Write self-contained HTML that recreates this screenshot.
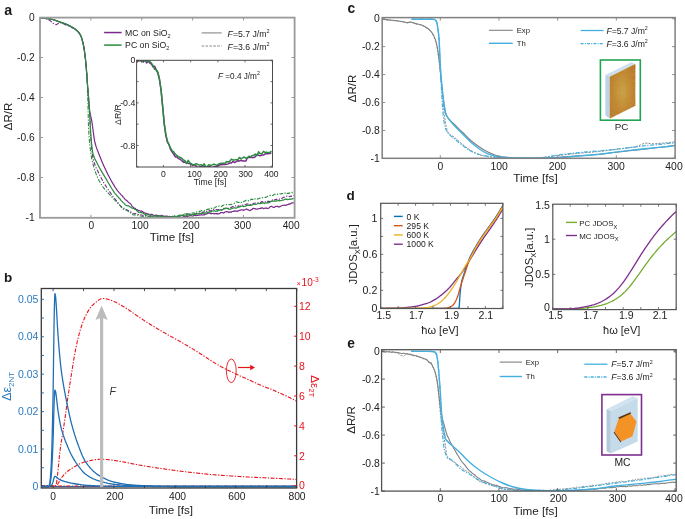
<!DOCTYPE html>
<html><head><meta charset="utf-8"><style>
html,body{margin:0;padding:0;background:#fff;}
svg{display:block;font-family:"Liberation Sans", sans-serif;will-change:transform;-webkit-font-smoothing:antialiased;}
</style></head><body>
<svg width="685" height="519" viewBox="0 0 685 519">
<defs>
<clipPath id="clipA"><rect x="40" y="17" width="254.5" height="201"/></clipPath>
<clipPath id="clipI"><rect x="136.6" y="60" width="135.9" height="107"/></clipPath>
<clipPath id="clipB"><rect x="41.4" y="288.6" width="255.2" height="199.4"/></clipPath>
<clipPath id="clipC"><rect x="382.3" y="17" width="292.7" height="141.2"/></clipPath>
<clipPath id="clipD1"><rect x="380.7" y="203.3" width="122.2" height="105.2"/></clipPath>
<clipPath id="clipD2"><rect x="552.5" y="204.2" width="123.7" height="105.3"/></clipPath>
<clipPath id="clipE"><rect x="381.9" y="350" width="294.3" height="141.1"/></clipPath>
</defs>
<rect width="685" height="519" fill="#fff"/>
<text x="4.2" y="14.7" font-size="14.2" text-anchor="start" fill="#1a1a1a" font-weight="bold" font-style="normal" >a</text>
<g clip-path="url(#clipA)">
<path d="M40.5,18 L41.1,18.01 L41.7,18.05 L42.3,18.11 L42.9,18.19 L43.5,18.29 L44.1,18.4 L44.7,18.52 L45.3,18.65 L45.9,18.78 L46.5,18.93 L47.1,19.11 L47.7,19.34 L48.3,19.6 L48.9,19.89 L49.5,20.21 L50.1,20.56 L50.7,21.04 L51.3,21.63 L51.9,22.26 L52.5,22.83 L53.1,23.26 L53.7,23.65 L54.3,24.02 L54.9,24.33 L55.5,24.54 L56.1,24.6 L56.7,24.42 L57.3,24.08 L57.9,23.68 L58.5,23.34 L59.1,23.19 L59.7,23.12 L60.3,23.07 L60.9,23.03 L61.5,23.01 L62.1,23 L62.7,23.17 L63.3,23.51 L63.9,23.93 L64.5,24.34 L65.1,24.64 L65.7,24.86 L66.3,25.05 L66.9,25.23 L67.5,25.42 L68.1,25.64 L68.7,25.9 L69.3,26.18 L69.9,26.48 L70.5,26.79 L71.1,27.11 L71.7,27.44 L72.3,27.76 L72.9,28.07 L73.5,28.38 L74.1,28.7 L74.7,29.04 L75.3,29.41 L75.9,29.82 L76.5,30.28 L77.1,30.79 L77.7,31.36 L78.3,31.99 L78.9,32.72 L79.5,33.55 L80.1,34.5 L80.7,35.59 L81.3,37.05 L81.9,38.89 L82.5,41.08 L83.1,43.58 L83.7,46.39 L84.3,49.99 L84.9,54.4 L85.5,59.5 L86.1,65.95 L86.7,73.78 L87.3,81.99 L87.9,89.53 L88.5,96.4 L89.1,103.92 L89.7,113.98 L90.3,129.09 L90.9,139.27 L91.5,146.79 L92.1,152.67 L92.7,156.6 L93.3,159.25 L93.9,161.55 L94.5,163.55 L95.1,165.29 L95.7,166.82 L96.3,168.19 L96.9,169.44 L97.5,170.62 L98.1,171.79 L98.7,172.98 L99.3,174.23 L99.9,175.45 L100.5,176.65 L101.1,177.81 L101.7,178.93 L102.3,180.03 L102.9,181.1 L103.5,182.15 L104.1,183.17 L104.7,184.16 L105.3,185.14 L105.9,186.09 L106.5,187.02 L107.1,187.94 L107.7,188.84 L108.3,189.73 L108.9,190.6 L109.5,191.47 L110.1,192.32 L110.7,193.17 L111.3,194.04 L111.9,194.9 L112.5,195.68 L113.1,196.53 L113.7,197.31 L114.3,198.04 L114.9,198.8 L115.5,199.49 L116.1,200.24 L116.7,201.15 L117.3,201.92 L117.9,202.62 L118.5,203.48 L119.1,204.24 L119.7,204.95 L120.3,205.79 L120.9,206.7 L121.5,207.39 L122.1,208.1 L122.7,208.63 L123.3,209.09 L123.9,209.43 L124.5,209.93 L125.1,210.1 L125.7,209.96 L126.3,210.15 L126.9,210.2 L127.5,210.26 L128.1,210.5 L128.7,210.84 L129.3,211.22 L129.9,211.6 L130.5,211.63 L131.1,212.15 L131.7,212.74 L132.3,212.77 L132.9,213.37 L133.5,213.79 L134.1,213.62 L134.7,213.74 L135.3,213.65 L135.9,213.45 L136.5,213.68 L137.1,214.2 L137.7,214.23 L138.3,214.63 L138.9,214.55 L139.5,214.78 L140.1,214.79 L140.7,214.81 L141.3,214.98 L141.9,215.07 L142.5,215.41 L143.1,215.7 L143.7,216.17 L144.3,216.2 L144.9,216.45 L145.5,215.7 L146.1,215.97 L146.7,215.77 L147.3,216.04 L147.9,215.98 L148.5,216.53 L149.1,216.26 L149.7,216.25 L150.3,216.03 L150.9,216.3 L151.5,216.27 L152.1,216.06 L152.7,216.19 L153.3,216.31 L153.9,216.48 L154.5,216.78 L155.1,217.14 L155.7,217.07 L156.3,217.23 L156.9,217.01 L157.5,216.79 L158.1,216.95 L158.7,217.32 L159.3,217.25 L159.9,217 L160.5,216.94 L161.1,216.38 L161.7,216.3 L162.3,216.21 L162.9,216.68 L163.5,216.87 L164.1,217.17 L164.7,217.6 L165.3,217.38 L165.9,216.89 L166.5,216.71 L167.1,216.91 L167.7,216.38 L168.3,216.51 L168.9,216.56 L169.5,217.02 L170.1,216.77 L170.7,216.6 L171.3,216.65 L171.9,216.7 L172.5,216.29 L173.1,216.68 L173.7,216.78 L174.3,216.74 L174.9,216.78 L175.5,216.72 L176.1,216.54 L176.7,216.68 L177.3,216.54 L177.9,216.33 L178.5,216.26 L179.1,216.17 L179.7,215.96 L180.3,215.91 L180.9,215.63 L181.5,215.78 L182.1,215.17 L182.7,214.8 L183.3,214.64 L183.9,214.95 L184.5,214.65 L185.1,214.72 L185.7,214.84 L186.3,214.7 L186.9,214.21 L187.5,214.06 L188.1,213.99 L188.7,214.06 L189.3,214.07 L189.9,214.59 L190.5,214.71 L191.1,214.96 L191.7,215.04 L192.3,215.12 L192.9,214.78 L193.5,214.82 L194.1,214.32 L194.7,213.94 L195.3,213.87 L195.9,213.74 L196.5,213.5 L197.1,213.42 L197.7,213.2 L198.3,213.02 L198.9,213.14 L199.5,213.13 L200.1,213.19 L200.7,213.26 L201.3,213.17 L201.9,213.01 L202.5,212.35 L203.1,212.13 L203.7,212.27 L204.3,211.75 L204.9,211.68 L205.5,211.76 L206.1,212 L206.7,211.4 L207.3,211.58 L207.9,210.89 L208.5,210.87 L209.1,210.78 L209.7,210.51 L210.3,210.66 L210.9,210.84 L211.5,210.74 L212.1,209.79 L212.7,210.25 L213.3,209.69 L213.9,209.63 L214.5,209.25 L215.1,209.54 L215.7,209.45 L216.3,209.43 L216.9,209.64 L217.5,209.78 L218.1,209.97 L218.7,209.5 L219.3,209.6 L219.9,209.87 L220.5,209.95 L221.1,209.88 L221.7,209.78 L222.3,209.8 L222.9,209.43 L223.5,208.8 L224.1,208.28 L224.7,208.75 L225.3,208.51 L225.9,208.14 L226.5,208.53 L227.1,208.97 L227.7,208.58 L228.3,208.33 L228.9,208.65 L229.5,208.43 L230.1,207.89 L230.7,207.48 L231.3,207.4 L231.9,206.76 L232.5,206.61 L233.1,206.76 L233.7,206.06 L234.3,205.81 L234.9,206 L235.5,206.06 L236.1,205.73 L236.7,206.21 L237.3,206.53 L237.9,206.16 L238.5,205.81 L239.1,206.26 L239.7,206.21 L240.3,206 L240.9,205.94 L241.5,205.96 L242.1,205.24 L242.7,205.03 L243.3,205.05 L243.9,204.7 L244.5,204.65 L245.1,204.49 L245.7,204.51 L246.3,204.12 L246.9,203.91 L247.5,203.99 L248.1,204.11 L248.7,204.33 L249.3,204.03 L249.9,204.49 L250.5,204.65 L251.1,204.64 L251.7,204.13 L252.3,204.35 L252.9,204.08 L253.5,203.43 L254.1,203.26 L254.7,203.18 L255.3,203.07 L255.9,202.87 L256.5,202.63 L257.1,202.75 L257.7,202.74 L258.3,203.14 L258.9,203.08 L259.5,203.02 L260.1,202.62 L260.7,202.65 L261.3,201.82 L261.9,201.5 L262.5,201.92 L263.1,201.68 L263.7,201.83 L264.3,201.91 L264.9,201.86 L265.5,201.76 L266.1,201.89 L266.7,201.23 L267.3,201.1 L267.9,201.51 L268.5,201.18 L269.1,201.29 L269.7,201.78 L270.3,201.7 L270.9,201.37 L271.5,201.05 L272.1,200.42 L272.7,199.87 L273.3,200.05 L273.9,199.45 L274.5,199.67 L275.1,199.91 L275.7,199.6 L276.3,199.13 L276.9,199.76 L277.5,199.2 L278.1,199.18 L278.7,199.5 L279.3,199.15 L279.9,198.76 L280.5,198.87 L281.1,198.46 L281.7,198.22 L282.3,198.2 L282.9,197.8 L283.5,197.28 L284.1,197.33 L284.7,196.95 L285.3,196.76 L285.9,196.5 L286.5,196.33 L287.1,195.93 L287.7,196.05 L288.3,195.85 L288.9,196.28 L289.5,196.53 L290.1,196.6 L290.7,196.03 L291.3,196.5 L291.9,195.72 L292.5,195.61 L293.1,195.43 L293.7,195.55" fill="none" stroke="#7b2a8c" stroke-width="1.1" stroke-dasharray="4,1.5,1.3,1.5" stroke-linejoin="round" />
<path d="M40.5,18 L41.1,18.01 L41.7,18.03 L42.3,18.06 L42.9,18.1 L43.5,18.15 L44.1,18.2 L44.7,18.27 L45.3,18.33 L45.9,18.41 L46.5,18.48 L47.1,18.57 L47.7,18.65 L48.3,18.74 L48.9,18.83 L49.5,18.92 L50.1,19.02 L50.7,19.12 L51.3,19.24 L51.9,19.38 L52.5,19.53 L53.1,19.69 L53.7,19.86 L54.3,20.04 L54.9,20.23 L55.5,20.43 L56.1,20.63 L56.7,20.84 L57.3,21.05 L57.9,21.26 L58.5,21.48 L59.1,21.69 L59.7,21.9 L60.3,22.1 L60.9,22.31 L61.5,22.52 L62.1,22.73 L62.7,22.94 L63.3,23.16 L63.9,23.38 L64.5,23.6 L65.1,23.83 L65.7,24.07 L66.3,24.32 L66.9,24.57 L67.5,24.82 L68.1,25.09 L68.7,25.37 L69.3,25.65 L69.9,25.95 L70.5,26.26 L71.1,26.57 L71.7,26.91 L72.3,27.25 L72.9,27.62 L73.5,28 L74.1,28.41 L74.7,28.84 L75.3,29.29 L75.9,29.77 L76.5,30.29 L77.1,30.83 L77.7,31.4 L78.3,32.03 L78.9,32.75 L79.5,33.56 L80.1,34.5 L80.7,35.59 L81.3,37.05 L81.9,38.89 L82.5,41.08 L83.1,43.58 L83.7,46.39 L84.3,49.99 L84.9,54.4 L85.5,59.5 L86.1,64.63 L86.7,70.64 L87.3,79.62 L87.9,102.62 L88.5,127.33 L89.1,137.3 L89.7,143.77 L90.3,149.08 L90.9,153.56 L91.5,157.31 L92.1,160.43 L92.7,163 L93.3,165.25 L93.9,167.35 L94.5,169.31 L95.1,171.13 L95.7,172.82 L96.3,174.4 L96.9,175.87 L97.5,177.25 L98.1,178.54 L98.7,179.75 L99.3,180.9 L99.9,181.99 L100.5,183.03 L101.1,184.04 L101.7,185 L102.3,185.92 L102.9,186.79 L103.5,187.62 L104.1,188.41 L104.7,189.17 L105.3,189.9 L105.9,190.6 L106.5,191.28 L107.1,191.94 L107.7,192.58 L108.3,193.22 L108.9,193.85 L109.5,194.47 L110.1,195.1 L110.7,195.74 L111.3,196.39 L111.9,197.01 L112.5,197.68 L113.1,198.34 L113.7,198.97 L114.3,199.6 L114.9,200.18 L115.5,200.78 L116.1,201.38 L116.7,202 L117.3,202.6 L117.9,203.29 L118.5,203.96 L119.1,204.57 L119.7,205.19 L120.3,205.81 L120.9,206.32 L121.5,206.75 L122.1,207.31 L122.7,207.51 L123.3,208 L123.9,208.41 L124.5,208.27 L125.1,208.69 L125.7,209.16 L126.3,209.59 L126.9,209.86 L127.5,210.89 L128.1,211.28 L128.7,211.71 L129.3,211.65 L129.9,212.15 L130.5,212.8 L131.1,213.18 L131.7,213.92 L132.3,214.46 L132.9,214.81 L133.5,214.94 L134.1,215.02 L134.7,214.73 L135.3,215 L135.9,214.97 L136.5,214.73 L137.1,214.81 L137.7,215.13 L138.3,215.31 L138.9,215.63 L139.5,215.86 L140.1,215.95 L140.7,215.97 L141.3,215.82 L141.9,216.14 L142.5,216.42 L143.1,216.43 L143.7,216.55 L144.3,216.54 L144.9,216.26 L145.5,215.87 L146.1,216.12 L146.7,216.16 L147.3,216.46 L147.9,216.74 L148.5,217.16 L149.1,216.83 L149.7,216.64 L150.3,216.69 L150.9,216.69 L151.5,216.34 L152.1,216.37 L152.7,216.9 L153.3,216.75 L153.9,217.03 L154.5,217.47 L155.1,217.6 L155.7,217.6 L156.3,217.55 L156.9,216.8 L157.5,216.1 L158.1,216.15 L158.7,216.35 L159.3,216.35 L159.9,216.91 L160.5,217.19 L161.1,217.3 L161.7,217.23 L162.3,217.6 L162.9,217.12 L163.5,217.6 L164.1,217.6 L164.7,217.59 L165.3,217.03 L165.9,217.47 L166.5,217.2 L167.1,216.84 L167.7,216.43 L168.3,216.35 L168.9,216.11 L169.5,216.25 L170.1,216.59 L170.7,217.2 L171.3,217.47 L171.9,217.2 L172.5,216.7 L173.1,216.11 L173.7,215.59 L174.3,215.69 L174.9,215.88 L175.5,215.85 L176.1,216.11 L176.7,216.23 L177.3,216.03 L177.9,215.75 L178.5,215.54 L179.1,215.21 L179.7,215.1 L180.3,214.82 L180.9,214.69 L181.5,215.19 L182.1,215.05 L182.7,214.75 L183.3,214.57 L183.9,214.48 L184.5,213.95 L185.1,213.97 L185.7,213.94 L186.3,213.92 L186.9,213.88 L187.5,213.57 L188.1,213.69 L188.7,213.47 L189.3,213.52 L189.9,213.62 L190.5,214.29 L191.1,213.9 L191.7,213.45 L192.3,213.01 L192.9,213.04 L193.5,212.73 L194.1,213 L194.7,213.37 L195.3,213.65 L195.9,213.03 L196.5,212.34 L197.1,211.61 L197.7,211.45 L198.3,211.24 L198.9,211.33 L199.5,211.4 L200.1,211.36 L200.7,211 L201.3,210.59 L201.9,210.77 L202.5,210.64 L203.1,210.7 L203.7,210.87 L204.3,210.84 L204.9,210.19 L205.5,210.32 L206.1,210.03 L206.7,209.66 L207.3,209.36 L207.9,209.5 L208.5,208.93 L209.1,208.9 L209.7,209.14 L210.3,208.85 L210.9,208.17 L211.5,208.37 L212.1,208.21 L212.7,207.85 L213.3,208.04 L213.9,208.23 L214.5,207.86 L215.1,207.28 L215.7,206.98 L216.3,206.71 L216.9,206.4 L217.5,206.07 L218.1,206.29 L218.7,206.24 L219.3,206.05 L219.9,206.48 L220.5,206.66 L221.1,206.74 L221.7,206.15 L222.3,205.97 L222.9,205.58 L223.5,205.2 L224.1,204.94 L224.7,205.07 L225.3,204.85 L225.9,204.66 L226.5,204.64 L227.1,204.39 L227.7,204.38 L228.3,204.65 L228.9,204.65 L229.5,204.68 L230.1,204.75 L230.7,204.66 L231.3,204.25 L231.9,204.41 L232.5,204.14 L233.1,204.06 L233.7,203.78 L234.3,203.41 L234.9,202.62 L235.5,202.4 L236.1,201.84 L236.7,202.03 L237.3,202.13 L237.9,202.17 L238.5,202.47 L239.1,202.53 L239.7,202.13 L240.3,202.68 L240.9,202.76 L241.5,202.3 L242.1,202.16 L242.7,202.42 L243.3,201.97 L243.9,201.23 L244.5,201.08 L245.1,201.11 L245.7,200.84 L246.3,200.17 L246.9,200.58 L247.5,200.84 L248.1,200.91 L248.7,200.45 L249.3,200.69 L249.9,200.41 L250.5,200.1 L251.1,199.09 L251.7,199.39 L252.3,199.26 L252.9,199.54 L253.5,198.99 L254.1,199.47 L254.7,198.91 L255.3,198.85 L255.9,198.56 L256.5,199.13 L257.1,199.24 L257.7,198.88 L258.3,198.73 L258.9,198.6 L259.5,198.29 L260.1,198.16 L260.7,198.37 L261.3,198.12 L261.9,198.22 L262.5,197.71 L263.1,197.48 L263.7,197.3 L264.3,197.5 L264.9,197.39 L265.5,197.45 L266.1,197.08 L266.7,197.08 L267.3,196.67 L267.9,196.22 L268.5,196.13 L269.1,195.89 L269.7,195.59 L270.3,195.29 L270.9,195.41 L271.5,194.95 L272.1,195.17 L272.7,195.5 L273.3,195.25 L273.9,194.49 L274.5,194.2 L275.1,194.14 L275.7,193.89 L276.3,194.03 L276.9,194.09 L277.5,194.38 L278.1,193.81 L278.7,193.71 L279.3,193.65 L279.9,193.77 L280.5,193.97 L281.1,193.98 L281.7,193.53 L282.3,193.53 L282.9,193.68 L283.5,193.06 L284.1,192.97 L284.7,193.09 L285.3,193.04 L285.9,192.54 L286.5,192.88 L287.1,193.49 L287.7,193.42 L288.3,193.09 L288.9,193.66 L289.5,193.08 L290.1,192.79 L290.7,192.96 L291.3,192.68 L291.9,192.28 L292.5,192.82 L293.1,192.52 L293.7,192.25" fill="none" stroke="#2b8c3f" stroke-width="1.1" stroke-dasharray="4,1.5,1.3,1.5" stroke-linejoin="round" />
<path d="M40.5,18 L41.1,18.01 L41.7,18.03 L42.3,18.06 L42.9,18.1 L43.5,18.15 L44.1,18.2 L44.7,18.27 L45.3,18.33 L45.9,18.41 L46.5,18.48 L47.1,18.57 L47.7,18.65 L48.3,18.74 L48.9,18.83 L49.5,18.92 L50.1,19.02 L50.7,19.12 L51.3,19.24 L51.9,19.38 L52.5,19.53 L53.1,19.69 L53.7,19.86 L54.3,20.04 L54.9,20.23 L55.5,20.43 L56.1,20.63 L56.7,20.84 L57.3,21.05 L57.9,21.26 L58.5,21.48 L59.1,21.69 L59.7,21.9 L60.3,22.1 L60.9,22.31 L61.5,22.52 L62.1,22.73 L62.7,22.94 L63.3,23.16 L63.9,23.38 L64.5,23.6 L65.1,23.83 L65.7,24.07 L66.3,24.32 L66.9,24.57 L67.5,24.82 L68.1,25.09 L68.7,25.37 L69.3,25.65 L69.9,25.95 L70.5,26.26 L71.1,26.57 L71.7,26.91 L72.3,27.25 L72.9,27.62 L73.5,28 L74.1,28.41 L74.7,28.84 L75.3,29.29 L75.9,29.77 L76.5,30.29 L77.1,30.83 L77.7,31.4 L78.3,32.03 L78.9,32.75 L79.5,33.56 L80.1,34.5 L80.7,35.59 L81.3,37.05 L81.9,38.89 L82.5,41.08 L83.1,43.58 L83.7,46.39 L84.3,49.99 L84.9,54.4 L85.5,59.5 L86.1,65.95 L86.7,73.78 L87.3,81.99 L87.9,89.92 L88.5,98.56 L89.1,106.32 L89.7,111.32 L90.3,114.44 L90.9,116.91 L91.5,119.54 L92.1,123.08 L92.7,127.44 L93.3,132.13 L93.9,136.6 L94.5,140.36 L95.1,143.02 L95.7,145.22 L96.3,147.15 L96.9,148.88 L97.5,150.47 L98.1,151.98 L98.7,153.48 L99.3,155.02 L99.9,156.56 L100.5,158.06 L101.1,159.54 L101.7,160.99 L102.3,162.41 L102.9,163.8 L103.5,165.17 L104.1,166.5 L104.7,167.81 L105.3,169.1 L105.9,170.36 L106.5,171.59 L107.1,172.81 L107.7,173.99 L108.3,175.17 L108.9,176.32 L109.5,177.47 L110.1,178.59 L110.7,179.7 L111.3,180.78 L111.9,181.83 L112.5,182.89 L113.1,183.93 L113.7,184.86 L114.3,185.87 L114.9,186.87 L115.5,187.77 L116.1,188.69 L116.7,189.58 L117.3,190.33 L117.9,191.1 L118.5,191.83 L119.1,192.56 L119.7,193.2 L120.3,193.82 L120.9,194.59 L121.5,195.21 L122.1,195.63 L122.7,196.47 L123.3,197.27 L123.9,197.96 L124.5,198.69 L125.1,199.42 L125.7,199.76 L126.3,200.35 L126.9,200.76 L127.5,201.24 L128.1,201.91 L128.7,202.38 L129.3,202.99 L129.9,203.2 L130.5,203.84 L131.1,204.54 L131.7,205.55 L132.3,206.37 L132.9,206.89 L133.5,207.54 L134.1,208.08 L134.7,208.49 L135.3,208.38 L135.9,209.17 L136.5,209.77 L137.1,209.6 L137.7,209.84 L138.3,210.57 L138.9,210.66 L139.5,210.69 L140.1,211.05 L140.7,211.06 L141.3,210.95 L141.9,211.38 L142.5,211.5 L143.1,212.14 L143.7,212.36 L144.3,212.72 L144.9,213.1 L145.5,213.44 L146.1,213.2 L146.7,213.71 L147.3,213.83 L147.9,213.9 L148.5,214.02 L149.1,214.68 L149.7,214.73 L150.3,214.59 L150.9,214.38 L151.5,214.58 L152.1,214.4 L152.7,214.7 L153.3,215.22 L153.9,215.44 L154.5,215.6 L155.1,215.58 L155.7,215.03 L156.3,215.47 L156.9,215.32 L157.5,215.3 L158.1,215.72 L158.7,216.23 L159.3,215.55 L159.9,216.19 L160.5,215.84 L161.1,215.45 L161.7,215.4 L162.3,215.94 L162.9,215.85 L163.5,216.34 L164.1,216.56 L164.7,216.64 L165.3,216.29 L165.9,216.2 L166.5,216.2 L167.1,216.26 L167.7,216.42 L168.3,216.57 L168.9,216.55 L169.5,216.47 L170.1,216.53 L170.7,216.58 L171.3,216.76 L171.9,217.25 L172.5,217.23 L173.1,217.25 L173.7,216.95 L174.3,216.94 L174.9,216.75 L175.5,216.67 L176.1,216.72 L176.7,217.09 L177.3,217.07 L177.9,216.84 L178.5,217.19 L179.1,217.22 L179.7,217.16 L180.3,217.42 L180.9,217.6 L181.5,217.46 L182.1,217.31 L182.7,217.26 L183.3,216.96 L183.9,216.31 L184.5,216.58 L185.1,216.64 L185.7,216.66 L186.3,216.39 L186.9,216.95 L187.5,216.51 L188.1,216.41 L188.7,215.9 L189.3,216.02 L189.9,215.63 L190.5,215.63 L191.1,215.65 L191.7,215.85 L192.3,215.99 L192.9,215.86 L193.5,215.61 L194.1,215.44 L194.7,215.47 L195.3,215.44 L195.9,215.62 L196.5,215.39 L197.1,215.4 L197.7,215.49 L198.3,215.2 L198.9,214.88 L199.5,215.23 L200.1,215 L200.7,214.78 L201.3,214.71 L201.9,215.03 L202.5,215.02 L203.1,214.92 L203.7,214.86 L204.3,214.99 L204.9,214.55 L205.5,214.32 L206.1,213.95 L206.7,213.96 L207.3,213.61 L207.9,213.25 L208.5,212.93 L209.1,213.29 L209.7,213.21 L210.3,213.25 L210.9,213.71 L211.5,213.79 L212.1,213.52 L212.7,213.49 L213.3,213.55 L213.9,213.39 L214.5,213.8 L215.1,213.82 L215.7,213.5 L216.3,213.55 L216.9,213.86 L217.5,213.55 L218.1,214.01 L218.7,213.91 L219.3,213.71 L219.9,213.25 L220.5,212.87 L221.1,212.52 L221.7,212.76 L222.3,212.61 L222.9,212.56 L223.5,213.09 L224.1,212.72 L224.7,212.18 L225.3,212.01 L225.9,211.72 L226.5,211.65 L227.1,211.89 L227.7,211.95 L228.3,211.89 L228.9,212.62 L229.5,212.17 L230.1,211.89 L230.7,212.05 L231.3,212.23 L231.9,211.64 L232.5,211.51 L233.1,211.37 L233.7,211.36 L234.3,211.15 L234.9,210.71 L235.5,211.05 L236.1,211.36 L236.7,211.12 L237.3,211 L237.9,211.29 L238.5,210.85 L239.1,210.35 L239.7,210.39 L240.3,210.07 L240.9,210.03 L241.5,209.8 L242.1,209.97 L242.7,209.8 L243.3,210.37 L243.9,210 L244.5,209.93 L245.1,209.75 L245.7,209.48 L246.3,208.94 L246.9,209.17 L247.5,209.53 L248.1,209.92 L248.7,209.93 L249.3,210.51 L249.9,210.76 L250.5,210.51 L251.1,209.67 L251.7,209.75 L252.3,209.19 L252.9,208.29 L253.5,208.3 L254.1,208.67 L254.7,208.48 L255.3,208.55 L255.9,209.16 L256.5,209.01 L257.1,209.05 L257.7,209.04 L258.3,208.72 L258.9,208.49 L259.5,208.65 L260.1,208.45 L260.7,208.1 L261.3,208.33 L261.9,207.95 L262.5,207.83 L263.1,208.25 L263.7,208.63 L264.3,208.23 L264.9,208.21 L265.5,208.36 L266.1,207.95 L266.7,208 L267.3,208.36 L267.9,208.58 L268.5,208.22 L269.1,207.96 L269.7,207.16 L270.3,206.6 L270.9,206.5 L271.5,206.43 L272.1,206.6 L272.7,207.08 L273.3,207.31 L273.9,207.37 L274.5,207.11 L275.1,206.86 L275.7,206.45 L276.3,206.5 L276.9,206.23 L277.5,206.39 L278.1,206.64 L278.7,207.05 L279.3,206.74 L279.9,206.78 L280.5,206.29 L281.1,205.96 L281.7,205.67 L282.3,205.25 L282.9,205.25 L283.5,205.29 L284.1,205.23 L284.7,205.01 L285.3,205.42 L285.9,205.31 L286.5,205.17 L287.1,204.62 L287.7,204.57 L288.3,204.43 L288.9,203.99 L289.5,203.92 L290.1,204.21 L290.7,203.58 L291.3,203.17 L291.9,202.85 L292.5,202.92 L293.1,202.71 L293.7,203.15" fill="none" stroke="#7b2a8c" stroke-width="1.2" stroke-linejoin="round" />
<path d="M40.5,18 L41.1,18.01 L41.7,18.03 L42.3,18.06 L42.9,18.1 L43.5,18.15 L44.1,18.2 L44.7,18.27 L45.3,18.33 L45.9,18.41 L46.5,18.48 L47.1,18.57 L47.7,18.65 L48.3,18.74 L48.9,18.83 L49.5,18.92 L50.1,19.02 L50.7,19.12 L51.3,19.24 L51.9,19.38 L52.5,19.53 L53.1,19.69 L53.7,19.86 L54.3,20.04 L54.9,20.23 L55.5,20.43 L56.1,20.63 L56.7,20.84 L57.3,21.05 L57.9,21.26 L58.5,21.48 L59.1,21.69 L59.7,21.9 L60.3,22.1 L60.9,22.31 L61.5,22.52 L62.1,22.73 L62.7,22.94 L63.3,23.16 L63.9,23.38 L64.5,23.6 L65.1,23.83 L65.7,24.07 L66.3,24.32 L66.9,24.57 L67.5,24.82 L68.1,25.09 L68.7,25.37 L69.3,25.65 L69.9,25.95 L70.5,26.26 L71.1,26.57 L71.7,26.91 L72.3,27.25 L72.9,27.62 L73.5,28 L74.1,28.41 L74.7,28.84 L75.3,29.29 L75.9,29.77 L76.5,30.29 L77.1,30.83 L77.7,31.4 L78.3,32.03 L78.9,32.75 L79.5,33.56 L80.1,34.5 L80.7,35.59 L81.3,37.05 L81.9,38.89 L82.5,41.08 L83.1,43.58 L83.7,46.39 L84.3,49.99 L84.9,54.4 L85.5,59.5 L86.1,65.95 L86.7,73.78 L87.3,81.99 L87.9,89.58 L88.5,96.65 L89.1,104.2 L89.7,113.53 L90.3,126.08 L90.9,135.24 L91.5,142.63 L92.1,148.57 L92.7,152.4 L93.3,154.7 L93.9,156.57 L94.5,158.09 L95.1,159.38 L95.7,160.52 L96.3,161.63 L96.9,162.79 L97.5,164.03 L98.1,165.22 L98.7,166.38 L99.3,167.49 L99.9,168.58 L100.5,169.63 L101.1,170.67 L101.7,171.68 L102.3,172.68 L102.9,173.67 L103.5,174.66 L104.1,175.64 L104.7,176.63 L105.3,177.63 L105.9,178.64 L106.5,179.66 L107.1,180.69 L107.7,181.73 L108.3,182.76 L108.9,183.79 L109.5,184.82 L110.1,185.84 L110.7,186.83 L111.3,187.76 L111.9,188.73 L112.5,189.72 L113.1,190.66 L113.7,191.6 L114.3,192.59 L114.9,193.38 L115.5,193.99 L116.1,194.65 L116.7,195.41 L117.3,196.05 L117.9,196.63 L118.5,197.33 L119.1,198.18 L119.7,198.65 L120.3,199.43 L120.9,200.28 L121.5,200.94 L122.1,201.39 L122.7,202.17 L123.3,202.63 L123.9,203.13 L124.5,203.98 L125.1,204.67 L125.7,205.04 L126.3,205.4 L126.9,205.63 L127.5,205.69 L128.1,205.91 L128.7,205.93 L129.3,206.32 L129.9,206.82 L130.5,207.21 L131.1,207.26 L131.7,207.93 L132.3,208.07 L132.9,208.37 L133.5,208.23 L134.1,208.7 L134.7,209.19 L135.3,209.43 L135.9,209.52 L136.5,210.4 L137.1,211.24 L137.7,211.51 L138.3,212.05 L138.9,212.48 L139.5,212.71 L140.1,212.53 L140.7,212.45 L141.3,212.62 L141.9,213.01 L142.5,212.94 L143.1,213.11 L143.7,213.76 L144.3,214.09 L144.9,214.11 L145.5,214.85 L146.1,215.18 L146.7,215.06 L147.3,214.65 L147.9,214.76 L148.5,214.53 L149.1,214.4 L149.7,214.59 L150.3,215.43 L150.9,215.77 L151.5,216.11 L152.1,216 L152.7,216.08 L153.3,216.1 L153.9,215.85 L154.5,216.04 L155.1,216.14 L155.7,216.08 L156.3,216.19 L156.9,215.99 L157.5,215.83 L158.1,215.9 L158.7,215.87 L159.3,215.63 L159.9,216.11 L160.5,216.12 L161.1,216.4 L161.7,216.62 L162.3,216.42 L162.9,216.54 L163.5,215.98 L164.1,216.18 L164.7,216.31 L165.3,216.85 L165.9,217.11 L166.5,217.34 L167.1,217.36 L167.7,217.18 L168.3,216.82 L168.9,216.71 L169.5,217.09 L170.1,217.06 L170.7,217.2 L171.3,217.32 L171.9,216.93 L172.5,216.69 L173.1,216.69 L173.7,216.43 L174.3,216.22 L174.9,216.55 L175.5,216.61 L176.1,216.27 L176.7,216.51 L177.3,216.83 L177.9,216.42 L178.5,216.06 L179.1,216.17 L179.7,215.87 L180.3,215.47 L180.9,215.47 L181.5,215.52 L182.1,215.41 L182.7,215.55 L183.3,215.32 L183.9,215.55 L184.5,215.92 L185.1,215.81 L185.7,215.73 L186.3,216.18 L186.9,215.65 L187.5,215.1 L188.1,214.99 L188.7,214.87 L189.3,214.62 L189.9,214.85 L190.5,214.62 L191.1,214.82 L191.7,215 L192.3,214.61 L192.9,214.58 L193.5,214.75 L194.1,214.37 L194.7,213.91 L195.3,214.33 L195.9,213.96 L196.5,213.99 L197.1,214.1 L197.7,213.97 L198.3,213.53 L198.9,213.59 L199.5,213.84 L200.1,213.39 L200.7,213.47 L201.3,213.47 L201.9,213.34 L202.5,213.17 L203.1,213.33 L203.7,213.14 L204.3,213.16 L204.9,213.36 L205.5,212.81 L206.1,212.88 L206.7,213 L207.3,212.72 L207.9,212.2 L208.5,212.44 L209.1,212.29 L209.7,211.85 L210.3,211.65 L210.9,212.05 L211.5,211.64 L212.1,211 L212.7,211.02 L213.3,211.05 L213.9,210.74 L214.5,210.69 L215.1,211.39 L215.7,211.26 L216.3,211.17 L216.9,211.15 L217.5,211.14 L218.1,210.18 L218.7,210.32 L219.3,210.24 L219.9,209.79 L220.5,209.91 L221.1,210.5 L221.7,210.16 L222.3,209.72 L222.9,209.4 L223.5,209.04 L224.1,208.62 L224.7,208.6 L225.3,208.27 L225.9,208.53 L226.5,208.22 L227.1,208.16 L227.7,208.53 L228.3,208.96 L228.9,209.06 L229.5,209.29 L230.1,209.41 L230.7,208.9 L231.3,208.78 L231.9,208.7 L232.5,208.27 L233.1,207.9 L233.7,207.87 L234.3,207.83 L234.9,207.91 L235.5,208.08 L236.1,208.08 L236.7,207.94 L237.3,207.5 L237.9,207.29 L238.5,207.1 L239.1,207.12 L239.7,206.78 L240.3,206.69 L240.9,206.27 L241.5,206.17 L242.1,206.04 L242.7,205.99 L243.3,206.63 L243.9,206.57 L244.5,206.27 L245.1,206.04 L245.7,206.31 L246.3,205.74 L246.9,205.41 L247.5,205.42 L248.1,205.48 L248.7,205.4 L249.3,205.11 L249.9,205.49 L250.5,205.34 L251.1,205.5 L251.7,205.06 L252.3,204.87 L252.9,204.43 L253.5,204.48 L254.1,204.13 L254.7,204.29 L255.3,204.56 L255.9,204.33 L256.5,204.26 L257.1,203.95 L257.7,203.67 L258.3,203.39 L258.9,203.34 L259.5,203.75 L260.1,203.66 L260.7,203.19 L261.3,203.09 L261.9,203.38 L262.5,202.87 L263.1,202.69 L263.7,203.16 L264.3,203.6 L264.9,203.01 L265.5,202.83 L266.1,203.05 L266.7,203 L267.3,202.54 L267.9,202.92 L268.5,202.61 L269.1,202.67 L269.7,202.17 L270.3,201.63 L270.9,201.38 L271.5,201.51 L272.1,200.94 L272.7,200.91 L273.3,201.29 L273.9,201.09 L274.5,200.86 L275.1,201.12 L275.7,201.25 L276.3,200.9 L276.9,200.89 L277.5,200.8 L278.1,200.6 L278.7,200.54 L279.3,200.84 L279.9,200.67 L280.5,200.77 L281.1,200.48 L281.7,200.41 L282.3,200.18 L282.9,200.12 L283.5,200.04 L284.1,199.75 L284.7,199.29 L285.3,199.14 L285.9,199.34 L286.5,199.05 L287.1,199.38 L287.7,199.71 L288.3,199.47 L288.9,199.2 L289.5,199.11 L290.1,199.36 L290.7,199.06 L291.3,199.26 L291.9,198.95 L292.5,199.01 L293.1,198.5 L293.7,198.37" fill="none" stroke="#2b8c3f" stroke-width="1.2" stroke-linejoin="round" />
</g>
<rect x="40" y="17.6" width="254.6" height="200.2" fill="none" stroke="#9a9a9a" stroke-width="1.8"/>
<line x1="90.9" y1="217.8" x2="90.9" y2="214.8" stroke="#9a9a9a" stroke-width="1.0"/>
<line x1="90.9" y1="17.5" x2="90.9" y2="20.5" stroke="#9a9a9a" stroke-width="1.0"/>
<line x1="141.77" y1="217.8" x2="141.77" y2="214.8" stroke="#9a9a9a" stroke-width="1.0"/>
<line x1="141.77" y1="17.5" x2="141.77" y2="20.5" stroke="#9a9a9a" stroke-width="1.0"/>
<line x1="192.64" y1="217.8" x2="192.64" y2="214.8" stroke="#9a9a9a" stroke-width="1.0"/>
<line x1="192.64" y1="17.5" x2="192.64" y2="20.5" stroke="#9a9a9a" stroke-width="1.0"/>
<line x1="243.51" y1="217.8" x2="243.51" y2="214.8" stroke="#9a9a9a" stroke-width="1.0"/>
<line x1="243.51" y1="17.5" x2="243.51" y2="20.5" stroke="#9a9a9a" stroke-width="1.0"/>
<line x1="294.38" y1="217.8" x2="294.38" y2="214.8" stroke="#9a9a9a" stroke-width="1.0"/>
<line x1="294.38" y1="17.5" x2="294.38" y2="20.5" stroke="#9a9a9a" stroke-width="1.0"/>
<line x1="40" y1="17.5" x2="43" y2="17.5" stroke="#9a9a9a" stroke-width="1.0"/>
<line x1="294.5" y1="17.5" x2="291.5" y2="17.5" stroke="#9a9a9a" stroke-width="1.0"/>
<line x1="40" y1="57.5" x2="43" y2="57.5" stroke="#9a9a9a" stroke-width="1.0"/>
<line x1="294.5" y1="57.5" x2="291.5" y2="57.5" stroke="#9a9a9a" stroke-width="1.0"/>
<line x1="40" y1="97.5" x2="43" y2="97.5" stroke="#9a9a9a" stroke-width="1.0"/>
<line x1="294.5" y1="97.5" x2="291.5" y2="97.5" stroke="#9a9a9a" stroke-width="1.0"/>
<line x1="40" y1="137.5" x2="43" y2="137.5" stroke="#9a9a9a" stroke-width="1.0"/>
<line x1="294.5" y1="137.5" x2="291.5" y2="137.5" stroke="#9a9a9a" stroke-width="1.0"/>
<line x1="40" y1="177.5" x2="43" y2="177.5" stroke="#9a9a9a" stroke-width="1.0"/>
<line x1="294.5" y1="177.5" x2="291.5" y2="177.5" stroke="#9a9a9a" stroke-width="1.0"/>
<line x1="40" y1="217.5" x2="43" y2="217.5" stroke="#9a9a9a" stroke-width="1.0"/>
<line x1="294.5" y1="217.5" x2="291.5" y2="217.5" stroke="#9a9a9a" stroke-width="1.0"/>
<text x="34.6" y="21.2" font-size="10.2" text-anchor="end" fill="#222" font-weight="normal" font-style="normal" >0</text>
<text x="34.6" y="61.2" font-size="10.2" text-anchor="end" fill="#222" font-weight="normal" font-style="normal" >-0.2</text>
<text x="34.6" y="101.2" font-size="10.2" text-anchor="end" fill="#222" font-weight="normal" font-style="normal" >-0.4</text>
<text x="34.6" y="141.2" font-size="10.2" text-anchor="end" fill="#222" font-weight="normal" font-style="normal" >-0.6</text>
<text x="34.6" y="181.2" font-size="10.2" text-anchor="end" fill="#222" font-weight="normal" font-style="normal" >-0.8</text>
<text x="34.6" y="221.2" font-size="10.2" text-anchor="end" fill="#222" font-weight="normal" font-style="normal" >-1</text>
<text x="91.3" y="228.7" font-size="10.2" text-anchor="middle" fill="#222" font-weight="normal" font-style="normal" >0</text>
<text x="140.05" y="228.7" font-size="10.2" text-anchor="middle" fill="#222" font-weight="normal" font-style="normal" >100</text>
<text x="191.1" y="228.7" font-size="10.2" text-anchor="middle" fill="#222" font-weight="normal" font-style="normal" >200</text>
<text x="242.6" y="228.7" font-size="10.2" text-anchor="middle" fill="#222" font-weight="normal" font-style="normal" >300</text>
<text x="291.2" y="228.7" font-size="10.2" text-anchor="middle" fill="#222" font-weight="normal" font-style="normal" >400</text>
<text x="149.7" y="241.3" font-size="11.7" text-anchor="start" fill="#222" font-weight="normal" font-style="normal" >Time [fs]</text>
<text x="12" y="116.5" font-size="11.5" text-anchor="middle" fill="#222" font-weight="normal" font-style="normal" transform="rotate(-90 12 116.5)" >&#916;R/R</text>
<line x1="104.1" y1="32.55" x2="121.6" y2="32.55" stroke="#7b2a8c" stroke-width="1.5"/>
<line x1="104.1" y1="45.1" x2="121.6" y2="45.1" stroke="#2b8c3f" stroke-width="1.5"/>
<text x="125.1" y="35.5" font-size="8.7" text-anchor="start" fill="#222" font-weight="normal" font-style="normal" >MC on SiO<tspan font-size="5.5" dy="2.2">2</tspan></text>
<text x="125.1" y="48" font-size="8.7" text-anchor="start" fill="#222" font-weight="normal" font-style="normal" >PC on SiO<tspan font-size="5.5" dy="2.2">2</tspan></text>
<line x1="201.6" y1="32.9" x2="221.7" y2="32.9" stroke="#9a9a9a" stroke-width="1.3"/>
<line x1="201.6" y1="46" x2="221.7" y2="46" stroke="#8a8a8a" stroke-width="1.2" stroke-dasharray="2.6,1.3"/>
<text x="227.6" y="36.7" font-size="8.7" text-anchor="start" fill="#222" font-weight="normal" font-style="normal" ><tspan font-style="italic">F</tspan>=5.7 J/m<tspan font-size="5.5" dy="-3.5">2</tspan></text>
<text x="227.6" y="49.5" font-size="8.7" text-anchor="start" fill="#222" font-weight="normal" font-style="normal" ><tspan font-style="italic">F</tspan>=3.6 J/m<tspan font-size="5.5" dy="-3.5">2</tspan></text>
<rect x="136.6" y="60.3" width="135.9" height="106.7" fill="#fff"/>
<g clip-path="url(#clipI)">
<path d="M137,62.2 L138.6,60.5 L140.2,60.66 L141.8,60.31 L143.4,61.99 L145,59.61 L146.6,63 L148.2,61.14 L149.8,63.03 L151.4,63.99 L153,66.77 L154.6,66.17 L156.2,69.84 L157.8,72.99 L159.4,79.37 L161,89.32 L162.6,106 L164.2,122.79 L165.8,135.14 L167.4,142.05 L169,144.68 L170.6,149.63 L172.2,152.08 L173.8,154.24 L175.4,156.88 L177,156.91 L178.6,158.66 L180.2,159.31 L181.8,160.74 L183.4,162.17 L185,162 L186.6,163.03 L188.2,163.38 L189.8,163.79 L191.4,164.46 L193,165.52 L194.6,164.87 L196.2,166.14 L197.8,167.46 L199.4,166.91 L201,166.35 L202.6,165.98 L204.2,166.28 L205.8,168.17 L207.4,166.76 L209,166.12 L210.6,166.69 L212.2,168.12 L213.8,166.44 L215.4,166.75 L217,166.4 L218.6,165.64 L220.2,164.55 L221.8,164.71 L223.4,164.36 L225,164.53 L226.6,164.27 L228.2,163.88 L229.8,162.89 L231.4,162.91 L233,161.29 L234.6,162.59 L236.2,161.69 L237.8,160.74 L239.4,161.06 L241,160.3 L242.6,160.96 L244.2,160.97 L245.8,161.1 L247.4,157.75 L249,157.22 L250.6,157.48 L252.2,157.53 L253.8,157.61 L255.4,156.67 L257,154.31 L258.6,155.22 L260.2,155.81 L261.8,155.01 L263.4,155.12 L265,154.01 L266.6,153.71 L268.2,153.7 L269.8,153.56 L271.4,153.08" fill="none" stroke="#7b2a8c" stroke-width="1.5" stroke-linejoin="round" />
<path d="M137,60.17 L138.6,60.54 L140.2,58.97 L141.8,62.08 L143.4,59.46 L145,60.37 L146.6,61.6 L148.2,60.36 L149.8,61.53 L151.4,63.06 L153,65.64 L154.6,69.25 L156.2,69.73 L157.8,72.01 L159.4,78.5 L161,89.32 L162.6,105.72 L164.2,124.03 L165.8,134.11 L167.4,141.19 L169,144.46 L170.6,148.19 L172.2,150.82 L173.8,151.84 L175.4,154.29 L177,155.67 L178.6,156.65 L180.2,157.51 L181.8,158.21 L183.4,160.03 L185,160.73 L186.6,163.54 L188.2,160.39 L189.8,162.96 L191.4,163.7 L193,165.02 L194.6,164.56 L196.2,163.67 L197.8,164.53 L199.4,165.15 L201,164.65 L202.6,165.71 L204.2,163.78 L205.8,166.6 L207.4,166.3 L209,164.76 L210.6,165.42 L212.2,164.88 L213.8,164.08 L215.4,164.72 L217,165.36 L218.6,164.02 L220.2,163.56 L221.8,163.33 L223.4,163.28 L225,163.49 L226.6,161.49 L228.2,161.94 L229.8,161.24 L231.4,159.11 L233,159.96 L234.6,159.88 L236.2,159.65 L237.8,159.64 L239.4,157.44 L241,158.8 L242.6,157.92 L244.2,157 L245.8,158.17 L247.4,157.85 L249,156.25 L250.6,156.96 L252.2,155.49 L253.8,155.36 L255.4,153.94 L257,155.6 L258.6,151.73 L260.2,153.47 L261.8,153.78 L263.4,151.28 L265,152.44 L266.6,152.21 L268.2,152.61 L269.8,152.64 L271.4,151" fill="none" stroke="#2b8c3f" stroke-width="1.5" stroke-linejoin="round" />
</g>
<rect x="136.6" y="60.3" width="135.9" height="106.7" fill="none" stroke="#4a4a4a" stroke-width="1.0"/>
<line x1="163.5" y1="167" x2="163.5" y2="165" stroke="#4a4a4a" stroke-width="0.8"/>
<line x1="163.5" y1="60.3" x2="163.5" y2="62.3" stroke="#4a4a4a" stroke-width="0.8"/>
<line x1="190.68" y1="167" x2="190.68" y2="165" stroke="#4a4a4a" stroke-width="0.8"/>
<line x1="190.68" y1="60.3" x2="190.68" y2="62.3" stroke="#4a4a4a" stroke-width="0.8"/>
<line x1="217.86" y1="167" x2="217.86" y2="165" stroke="#4a4a4a" stroke-width="0.8"/>
<line x1="217.86" y1="60.3" x2="217.86" y2="62.3" stroke="#4a4a4a" stroke-width="0.8"/>
<line x1="245.04" y1="167" x2="245.04" y2="165" stroke="#4a4a4a" stroke-width="0.8"/>
<line x1="245.04" y1="60.3" x2="245.04" y2="62.3" stroke="#4a4a4a" stroke-width="0.8"/>
<line x1="272.22" y1="167" x2="272.22" y2="165" stroke="#4a4a4a" stroke-width="0.8"/>
<line x1="272.22" y1="60.3" x2="272.22" y2="62.3" stroke="#4a4a4a" stroke-width="0.8"/>
<line x1="136.6" y1="60.3" x2="138.6" y2="60.3" stroke="#4a4a4a" stroke-width="0.8"/>
<line x1="272.5" y1="60.3" x2="270.5" y2="60.3" stroke="#4a4a4a" stroke-width="0.8"/>
<line x1="136.6" y1="81.6" x2="138.6" y2="81.6" stroke="#4a4a4a" stroke-width="0.8"/>
<line x1="272.5" y1="81.6" x2="270.5" y2="81.6" stroke="#4a4a4a" stroke-width="0.8"/>
<line x1="136.6" y1="102.9" x2="138.6" y2="102.9" stroke="#4a4a4a" stroke-width="0.8"/>
<line x1="272.5" y1="102.9" x2="270.5" y2="102.9" stroke="#4a4a4a" stroke-width="0.8"/>
<line x1="136.6" y1="124.2" x2="138.6" y2="124.2" stroke="#4a4a4a" stroke-width="0.8"/>
<line x1="272.5" y1="124.2" x2="270.5" y2="124.2" stroke="#4a4a4a" stroke-width="0.8"/>
<line x1="136.6" y1="145.5" x2="138.6" y2="145.5" stroke="#4a4a4a" stroke-width="0.8"/>
<line x1="272.5" y1="145.5" x2="270.5" y2="145.5" stroke="#4a4a4a" stroke-width="0.8"/>
<line x1="136.6" y1="166.8" x2="138.6" y2="166.8" stroke="#4a4a4a" stroke-width="0.8"/>
<line x1="272.5" y1="166.8" x2="270.5" y2="166.8" stroke="#4a4a4a" stroke-width="0.8"/>
<text x="135.3" y="63.4" font-size="8.8" text-anchor="end" fill="#222" font-weight="normal" font-style="normal" >0</text>
<text x="135.3" y="106" font-size="8.8" text-anchor="end" fill="#222" font-weight="normal" font-style="normal" >-0.4</text>
<text x="135.3" y="148.6" font-size="8.8" text-anchor="end" fill="#222" font-weight="normal" font-style="normal" >-0.8</text>
<text x="163.4" y="176.8" font-size="8.6" text-anchor="middle" fill="#222" font-weight="normal" font-style="normal" >0</text>
<text x="194.5" y="176.8" font-size="8.6" text-anchor="middle" fill="#222" font-weight="normal" font-style="normal" >100</text>
<text x="220.6" y="176.8" font-size="8.6" text-anchor="middle" fill="#222" font-weight="normal" font-style="normal" >200</text>
<text x="245.7" y="176.8" font-size="8.6" text-anchor="middle" fill="#222" font-weight="normal" font-style="normal" >300</text>
<text x="271.4" y="176.8" font-size="8.6" text-anchor="middle" fill="#222" font-weight="normal" font-style="normal" >400</text>
<text x="210" y="185.2" font-size="8.6" text-anchor="middle" fill="#222" font-weight="normal" font-style="normal" >Time [fs]</text>
<text x="120.9" y="114.5" font-size="8.7" text-anchor="middle" fill="#222" font-weight="normal" font-style="normal" transform="rotate(-90 120.9 114.5)" >&#916;R/R</text>
<text x="218" y="78.6" font-size="8.2" text-anchor="start" fill="#222" font-weight="normal" font-style="normal" ><tspan font-style="italic">F</tspan> =0.4 J/m<tspan font-size="5.2" dy="-3.2">2</tspan></text>
<text x="4" y="281.6" font-size="13.5" text-anchor="start" fill="#1a1a1a" font-weight="bold" font-style="normal" >b</text>
<g clip-path="url(#clipB)">
<line x1="41.4" y1="486.5" x2="296.6" y2="486.5" stroke="#1f6fb5" stroke-width="1.1"/>
<line x1="41.4" y1="486" x2="296.6" y2="486" stroke="#e8141c" stroke-width="1.0" stroke-dasharray="4,1.5,1.3,1.5"/>
<path d="M40.92,485.7 L41.53,485.7 L42.13,485.7 L42.74,485.7 L43.35,485.7 L43.96,485.7 L44.57,485.7 L45.18,485.7 L45.79,485.7 L46.4,485.7 L47.01,485.7 L47.62,485.7 L48.23,485.7 L48.84,485.7 L49.44,485.7 L50.05,485.7 L50.66,485.7 L51.27,485.7 L51.88,485.7 L52.49,485.7 L53.1,485.7 L53.71,485.7 L54.32,485.7 L54.93,485.7 L55.54,485.7 L56.15,484.53 L56.76,481.36 L57.36,476.68 L57.97,470.97 L58.58,464.73 L59.19,458.44 L59.8,452.61 L60.41,447.73 L61.02,443.61 L61.63,439.71 L62.24,435.94 L62.85,432.21 L63.46,428.44 L64.07,424.53 L64.67,420.41 L65.28,416.12 L65.89,411.72 L66.5,407.27 L67.11,402.85 L67.72,398.52 L68.33,394.34 L68.94,390.25 L69.55,386.21 L70.16,382.25 L70.77,378.35 L71.38,374.52 L71.99,370.68 L72.59,366.84 L73.2,363.05 L73.81,359.36 L74.42,355.81 L75.03,352.46 L75.64,349.35 L76.25,346.37 L76.86,343.5 L77.47,340.74 L78.08,338.13 L78.69,335.67 L79.3,333.39 L79.9,331.3 L80.51,329.3 L81.12,327.38 L81.73,325.53 L82.34,323.75 L82.95,322.06 L83.56,320.46 L84.17,318.94 L84.78,317.52 L85.39,316.2 L86,314.97 L86.61,313.82 L87.22,312.7 L87.82,311.62 L88.43,310.6 L89.04,309.63 L89.65,308.71 L90.26,307.85 L90.87,307.06 L91.48,306.34 L92.09,305.7 L92.7,305.12 L93.31,304.55 L93.92,303.98 L94.53,303.42 L95.13,302.86 L95.74,302.32 L96.35,301.8 L96.96,301.31 L97.57,300.84 L98.18,300.4 L98.79,299.99 L99.4,299.63 L100.01,299.31 L100.62,299.04 L101.23,298.82 L101.84,298.66 L102.45,298.56 L103.05,298.53 L103.66,298.54 L104.27,298.58 L104.88,298.65 L105.49,298.75 L106.1,298.87 L106.71,299 L107.32,299.16 L107.93,299.33 L108.54,299.51 L109.15,299.71 L109.76,299.92 L110.36,300.13 L110.97,300.35 L111.58,300.58 L112.19,300.81 L112.8,301.03 L113.41,301.26 L114.02,301.48 L114.63,301.73 L115.24,302 L115.85,302.3 L116.46,302.61 L117.07,302.94 L117.68,303.27 L118.28,303.62 L118.89,303.97 L119.5,304.31 L120.11,304.66 L120.72,305 L121.33,305.35 L121.94,305.7 L122.55,306.06 L123.16,306.42 L123.77,306.79 L124.38,307.17 L124.99,307.55 L125.59,307.93 L126.2,308.31 L126.81,308.7 L127.42,309.1 L128.03,309.49 L128.64,309.89 L129.25,310.29 L129.86,310.71 L130.47,311.13 L131.08,311.56 L131.69,311.99 L132.3,312.42 L132.91,312.86 L133.51,313.29 L134.12,313.72 L134.73,314.15 L135.34,314.57 L135.95,314.98 L136.56,315.39 L137.17,315.81 L137.78,316.22 L138.39,316.63 L139,317.04 L139.61,317.44 L140.22,317.85 L140.82,318.26 L141.43,318.66 L142.04,319.07 L142.65,319.47 L143.26,319.87 L143.87,320.27 L144.48,320.67 L145.09,321.06 L145.7,321.46 L146.31,321.85 L146.92,322.24 L147.53,322.63 L148.14,323.02 L148.74,323.41 L149.35,323.79 L149.96,324.18 L150.57,324.56 L151.18,324.93 L151.79,325.31 L152.4,325.69 L153.01,326.06 L153.62,326.43 L154.23,326.8 L154.84,327.17 L155.45,327.53 L156.05,327.9 L156.66,328.26 L157.27,328.62 L157.88,328.99 L158.49,329.34 L159.1,329.7 L159.71,330.06 L160.32,330.42 L160.93,330.77 L161.54,331.13 L162.15,331.48 L162.76,331.83 L163.37,332.18 L163.97,332.53 L164.58,332.88 L165.19,333.23 L165.8,333.58 L166.41,333.93 L167.02,334.28 L167.63,334.62 L168.24,334.96 L168.85,335.3 L169.46,335.64 L170.07,335.97 L170.68,336.3 L171.28,336.64 L171.89,336.97 L172.5,337.3 L173.11,337.63 L173.72,337.96 L174.33,338.29 L174.94,338.62 L175.55,338.95 L176.16,339.28 L176.77,339.62 L177.38,339.95 L177.99,340.29 L178.6,340.62 L179.2,340.96 L179.81,341.31 L180.42,341.65 L181.03,342 L181.64,342.35 L182.25,342.7 L182.86,343.05 L183.47,343.41 L184.08,343.77 L184.69,344.13 L185.3,344.49 L185.91,344.85 L186.51,345.21 L187.12,345.58 L187.73,345.94 L188.34,346.31 L188.95,346.68 L189.56,347.05 L190.17,347.42 L190.78,347.79 L191.39,348.16 L192,348.53 L192.61,348.9 L193.22,349.28 L193.83,349.65 L194.43,350.03 L195.04,350.4 L195.65,350.77 L196.26,351.15 L196.87,351.52 L197.48,351.9 L198.09,352.28 L198.7,352.66 L199.31,353.04 L199.92,353.43 L200.53,353.82 L201.14,354.21 L201.74,354.61 L202.35,355 L202.96,355.4 L203.57,355.8 L204.18,356.19 L204.79,356.59 L205.4,356.99 L206.01,357.39 L206.62,357.79 L207.23,358.19 L207.84,358.59 L208.45,358.99 L209.06,359.38 L209.66,359.78 L210.27,360.17 L210.88,360.57 L211.49,360.96 L212.1,361.35 L212.71,361.73 L213.32,362.12 L213.93,362.5 L214.54,362.88 L215.15,363.25 L215.76,363.62 L216.37,363.99 L216.97,364.35 L217.58,364.71 L218.19,365.07 L218.8,365.42 L219.41,365.76 L220.02,366.1 L220.63,366.43 L221.24,366.77 L221.85,367.09 L222.46,367.42 L223.07,367.74 L223.68,368.05 L224.29,368.37 L224.89,368.68 L225.5,368.99 L226.11,369.29 L226.72,369.59 L227.33,369.9 L227.94,370.19 L228.55,370.49 L229.16,370.79 L229.77,371.08 L230.38,371.37 L230.99,371.67 L231.6,371.96 L232.2,372.25 L232.81,372.54 L233.42,372.83 L234.03,373.12 L234.64,373.4 L235.25,373.68 L235.86,373.97 L236.47,374.25 L237.08,374.52 L237.69,374.8 L238.3,375.07 L238.91,375.35 L239.52,375.62 L240.12,375.89 L240.73,376.16 L241.34,376.43 L241.95,376.7 L242.56,376.97 L243.17,377.24 L243.78,377.51 L244.39,377.78 L245,378.05 L245.61,378.33 L246.22,378.6 L246.83,378.87 L247.43,379.15 L248.04,379.43 L248.65,379.71 L249.26,379.99 L249.87,380.27 L250.48,380.55 L251.09,380.83 L251.7,381.11 L252.31,381.39 L252.92,381.67 L253.53,381.95 L254.14,382.23 L254.75,382.51 L255.35,382.79 L255.96,383.07 L256.57,383.35 L257.18,383.62 L257.79,383.89 L258.4,384.16 L259.01,384.43 L259.62,384.69 L260.23,384.96 L260.84,385.22 L261.45,385.47 L262.06,385.72 L262.66,385.97 L263.27,386.22 L263.88,386.46 L264.49,386.7 L265.1,386.94 L265.71,387.18 L266.32,387.42 L266.93,387.66 L267.54,387.9 L268.15,388.13 L268.76,388.37 L269.37,388.61 L269.98,388.85 L270.58,389.09 L271.19,389.34 L271.8,389.58 L272.41,389.83 L273.02,390.08 L273.63,390.34 L274.24,390.6 L274.85,390.86 L275.46,391.12 L276.07,391.39 L276.68,391.65 L277.29,391.92 L277.89,392.19 L278.5,392.46 L279.11,392.73 L279.72,393 L280.33,393.28 L280.94,393.55 L281.55,393.83 L282.16,394.11 L282.77,394.39 L283.38,394.67 L283.99,394.95 L284.6,395.23 L285.21,395.52 L285.81,395.81 L286.42,396.09 L287.03,396.38 L287.64,396.67 L288.25,396.96 L288.86,397.26 L289.47,397.55 L290.08,397.85 L290.69,398.15 L291.3,398.45 L291.91,398.75 L292.52,399.06 L293.12,399.36 L293.73,399.67 L294.34,399.98 L294.95,400.29 L295.56,400.6 L296.17,400.92 L296.78,401.23" fill="none" stroke="#e8141c" stroke-width="1.1" stroke-dasharray="4,1.5,1.3,1.5" stroke-linejoin="round" />
<path d="M40.92,485.7 L41.53,485.7 L42.13,485.7 L42.74,485.7 L43.35,485.7 L43.96,485.7 L44.57,485.7 L45.18,485.7 L45.79,485.7 L46.4,485.7 L47.01,485.7 L47.62,485.7 L48.23,485.7 L48.84,485.7 L49.44,485.7 L50.05,485.7 L50.66,485.7 L51.27,485.7 L51.88,485.7 L52.49,485.7 L53.1,485.7 L53.71,485.7 L54.32,485.7 L54.93,485.7 L55.54,485.7 L56.15,485.55 L56.76,485.12 L57.36,484.47 L57.97,483.64 L58.58,482.68 L59.19,481.63 L59.8,480.54 L60.41,479.46 L61.02,478.43 L61.63,477.51 L62.24,476.73 L62.85,476.05 L63.46,475.38 L64.07,474.73 L64.67,474.09 L65.28,473.48 L65.89,472.88 L66.5,472.31 L67.11,471.76 L67.72,471.24 L68.33,470.75 L68.94,470.29 L69.55,469.84 L70.16,469.42 L70.77,469.01 L71.38,468.62 L71.99,468.24 L72.59,467.88 L73.2,467.52 L73.81,467.16 L74.42,466.81 L75.03,466.45 L75.64,466.1 L76.25,465.74 L76.86,465.39 L77.47,465.04 L78.08,464.7 L78.69,464.37 L79.3,464.05 L79.9,463.74 L80.51,463.44 L81.12,463.16 L81.73,462.9 L82.34,462.65 L82.95,462.43 L83.56,462.23 L84.17,462.05 L84.78,461.88 L85.39,461.73 L86,461.58 L86.61,461.45 L87.22,461.32 L87.82,461.19 L88.43,461.06 L89.04,460.93 L89.65,460.8 L90.26,460.66 L90.87,460.51 L91.48,460.35 L92.09,460.2 L92.7,460.04 L93.31,459.91 L93.92,459.79 L94.53,459.71 L95.13,459.65 L95.74,459.59 L96.35,459.53 L96.96,459.48 L97.57,459.44 L98.18,459.39 L98.79,459.35 L99.4,459.32 L100.01,459.29 L100.62,459.27 L101.23,459.25 L101.84,459.24 L102.45,459.24 L103.05,459.25 L103.66,459.27 L104.27,459.3 L104.88,459.34 L105.49,459.39 L106.1,459.44 L106.71,459.5 L107.32,459.57 L107.93,459.63 L108.54,459.7 L109.15,459.78 L109.76,459.85 L110.36,459.92 L110.97,459.99 L111.58,460.06 L112.19,460.13 L112.8,460.21 L113.41,460.29 L114.02,460.38 L114.63,460.47 L115.24,460.56 L115.85,460.66 L116.46,460.76 L117.07,460.86 L117.68,460.96 L118.28,461.06 L118.89,461.17 L119.5,461.27 L120.11,461.38 L120.72,461.48 L121.33,461.59 L121.94,461.69 L122.55,461.8 L123.16,461.92 L123.77,462.03 L124.38,462.15 L124.99,462.27 L125.59,462.39 L126.2,462.51 L126.81,462.63 L127.42,462.76 L128.03,462.88 L128.64,463 L129.25,463.13 L129.86,463.25 L130.47,463.38 L131.08,463.5 L131.69,463.62 L132.3,463.74 L132.91,463.86 L133.51,463.98 L134.12,464.1 L134.73,464.21 L135.34,464.32 L135.95,464.43 L136.56,464.54 L137.17,464.65 L137.78,464.76 L138.39,464.87 L139,464.98 L139.61,465.08 L140.22,465.19 L140.82,465.3 L141.43,465.4 L142.04,465.51 L142.65,465.61 L143.26,465.71 L143.87,465.82 L144.48,465.92 L145.09,466.02 L145.7,466.12 L146.31,466.22 L146.92,466.33 L147.53,466.43 L148.14,466.52 L148.74,466.62 L149.35,466.72 L149.96,466.82 L150.57,466.92 L151.18,467.01 L151.79,467.11 L152.4,467.2 L153.01,467.3 L153.62,467.39 L154.23,467.48 L154.84,467.58 L155.45,467.67 L156.05,467.76 L156.66,467.85 L157.27,467.94 L157.88,468.03 L158.49,468.12 L159.1,468.21 L159.71,468.3 L160.32,468.39 L160.93,468.48 L161.54,468.56 L162.15,468.65 L162.76,468.74 L163.37,468.82 L163.97,468.91 L164.58,469 L165.19,469.08 L165.8,469.17 L166.41,469.25 L167.02,469.34 L167.63,469.43 L168.24,469.51 L168.85,469.6 L169.46,469.68 L170.07,469.77 L170.68,469.85 L171.28,469.94 L171.89,470.02 L172.5,470.11 L173.11,470.19 L173.72,470.28 L174.33,470.36 L174.94,470.44 L175.55,470.53 L176.16,470.61 L176.77,470.69 L177.38,470.77 L177.99,470.85 L178.6,470.93 L179.2,471.01 L179.81,471.08 L180.42,471.16 L181.03,471.24 L181.64,471.31 L182.25,471.38 L182.86,471.46 L183.47,471.53 L184.08,471.6 L184.69,471.68 L185.3,471.75 L185.91,471.82 L186.51,471.9 L187.12,471.97 L187.73,472.04 L188.34,472.11 L188.95,472.18 L189.56,472.25 L190.17,472.33 L190.78,472.4 L191.39,472.47 L192,472.54 L192.61,472.61 L193.22,472.68 L193.83,472.75 L194.43,472.81 L195.04,472.88 L195.65,472.95 L196.26,473.02 L196.87,473.09 L197.48,473.15 L198.09,473.22 L198.7,473.28 L199.31,473.35 L199.92,473.41 L200.53,473.48 L201.14,473.54 L201.74,473.61 L202.35,473.67 L202.96,473.73 L203.57,473.79 L204.18,473.85 L204.79,473.91 L205.4,473.97 L206.01,474.03 L206.62,474.09 L207.23,474.15 L207.84,474.21 L208.45,474.26 L209.06,474.32 L209.66,474.37 L210.27,474.43 L210.88,474.48 L211.49,474.53 L212.1,474.59 L212.71,474.64 L213.32,474.69 L213.93,474.74 L214.54,474.79 L215.15,474.84 L215.76,474.89 L216.37,474.93 L216.97,474.98 L217.58,475.03 L218.19,475.08 L218.8,475.13 L219.41,475.17 L220.02,475.22 L220.63,475.26 L221.24,475.31 L221.85,475.35 L222.46,475.4 L223.07,475.44 L223.68,475.49 L224.29,475.53 L224.89,475.57 L225.5,475.62 L226.11,475.66 L226.72,475.7 L227.33,475.74 L227.94,475.79 L228.55,475.83 L229.16,475.87 L229.77,475.91 L230.38,475.95 L230.99,475.99 L231.6,476.03 L232.2,476.07 L232.81,476.11 L233.42,476.14 L234.03,476.18 L234.64,476.22 L235.25,476.26 L235.86,476.3 L236.47,476.33 L237.08,476.37 L237.69,476.41 L238.3,476.45 L238.91,476.48 L239.52,476.52 L240.12,476.55 L240.73,476.59 L241.34,476.62 L241.95,476.66 L242.56,476.7 L243.17,476.73 L243.78,476.76 L244.39,476.8 L245,476.83 L245.61,476.87 L246.22,476.9 L246.83,476.93 L247.43,476.96 L248.04,476.99 L248.65,477.03 L249.26,477.06 L249.87,477.09 L250.48,477.12 L251.09,477.15 L251.7,477.18 L252.31,477.21 L252.92,477.24 L253.53,477.27 L254.14,477.3 L254.75,477.32 L255.35,477.35 L255.96,477.38 L256.57,477.41 L257.18,477.44 L257.79,477.47 L258.4,477.5 L259.01,477.52 L259.62,477.55 L260.23,477.58 L260.84,477.61 L261.45,477.63 L262.06,477.66 L262.66,477.69 L263.27,477.72 L263.88,477.75 L264.49,477.77 L265.1,477.8 L265.71,477.83 L266.32,477.86 L266.93,477.89 L267.54,477.92 L268.15,477.94 L268.76,477.97 L269.37,478 L269.98,478.03 L270.58,478.06 L271.19,478.09 L271.8,478.12 L272.41,478.15 L273.02,478.18 L273.63,478.21 L274.24,478.24 L274.85,478.27 L275.46,478.3 L276.07,478.33 L276.68,478.36 L277.29,478.4 L277.89,478.43 L278.5,478.46 L279.11,478.49 L279.72,478.52 L280.33,478.55 L280.94,478.58 L281.55,478.61 L282.16,478.65 L282.77,478.68 L283.38,478.71 L283.99,478.74 L284.6,478.77 L285.21,478.81 L285.81,478.84 L286.42,478.87 L287.03,478.9 L287.64,478.93 L288.25,478.97 L288.86,479 L289.47,479.03 L290.08,479.06 L290.69,479.09 L291.3,479.13 L291.91,479.16 L292.52,479.19 L293.12,479.22 L293.73,479.26 L294.34,479.29 L294.95,479.32 L295.56,479.36 L296.17,479.39 L296.78,479.42" fill="none" stroke="#e8141c" stroke-width="1.1" stroke-dasharray="4,1.5,1.3,1.5" stroke-linejoin="round" />
<path d="M40.92,486.5 L41.07,486.5 L41.22,486.5 L41.37,486.5 L41.53,486.5 L41.68,486.5 L41.83,486.5 L41.98,486.5 L42.13,486.5 L42.29,486.5 L42.44,486.5 L42.59,486.5 L42.74,486.5 L42.9,486.5 L43.05,486.5 L43.2,486.5 L43.35,486.5 L43.51,486.5 L43.66,486.5 L43.81,486.5 L43.96,486.5 L44.11,486.5 L44.27,486.5 L44.42,486.5 L44.57,486.5 L44.72,486.5 L44.88,486.5 L45.03,486.5 L45.18,486.5 L45.33,486.5 L45.48,486.5 L45.64,486.5 L45.79,486.5 L45.94,486.5 L46.09,486.5 L46.25,486.5 L46.4,486.5 L46.55,486.5 L46.7,486.5 L46.86,486.5 L47.01,486.5 L47.16,486.5 L47.31,486.5 L47.46,486.5 L47.62,486.5 L47.77,486.5 L47.92,486.5 L48.07,486.5 L48.23,486.5 L48.38,486.5 L48.53,486.5 L48.68,486.5 L48.84,486.5 L48.99,486.37 L49.14,486.02 L49.29,485.46 L49.44,484.75 L49.6,483.89 L49.75,482.95 L49.9,481.93 L50.05,480.88 L50.21,479.68 L50.36,478.18 L50.51,476.4 L50.66,474.37 L50.82,472.09 L50.97,469.6 L51.12,466.91 L51.27,464.04 L51.42,460.69 L51.58,456.64 L51.73,452.03 L51.88,446.96 L52.03,441.56 L52.19,435.96 L52.34,430.07 L52.49,423.71 L52.64,416.84 L52.8,409.44 L52.95,401.47 L53.1,392.9 L53.25,382.8 L53.4,371.1 L53.56,359.07 L53.71,347.97 L53.86,337.47 L54.01,327.05 L54.17,317.74 L54.32,310.53 L54.47,304.63 L54.62,299.2 L54.78,295.23 L54.93,293.68 L55.08,293.91 L55.23,294.51 L55.38,295.35 L55.54,296.3 L55.69,297.57 L55.84,299.34 L55.99,301.48 L56.15,303.84 L56.3,306.28 L56.45,308.66 L56.6,311.08 L56.76,313.7 L56.91,316.44 L57.06,319.26 L57.21,322.08 L57.36,324.83 L57.52,327.47 L57.67,329.91 L57.82,332.18 L57.97,334.36 L58.13,336.49 L58.28,338.55 L58.43,340.55 L58.58,342.5 L58.74,344.4 L58.89,346.25 L59.04,348.07 L59.19,349.84 L59.34,351.59 L59.5,353.33 L59.65,355.03 L59.8,356.71 L59.95,358.35 L60.11,359.95 L60.26,361.5 L60.41,363.01 L60.56,364.46 L60.72,365.85 L60.87,367.18 L61.02,368.45 L61.17,369.67 L61.32,370.86 L61.48,372 L61.63,373.11 L61.78,374.19 L61.93,375.24 L62.09,376.26 L62.24,377.26 L62.39,378.25 L62.54,379.21 L62.69,380.17 L62.85,381.12 L63,382.05 L63.15,382.97 L63.3,383.88 L63.46,384.77 L63.61,385.66 L63.76,386.53 L63.91,387.4 L64.07,388.25 L64.22,389.1 L64.37,389.94 L64.52,390.77 L64.67,391.59 L64.83,392.4 L64.98,393.21 L65.13,394.01 L65.28,394.8 L65.44,395.59 L65.59,396.37 L65.74,397.15 L65.89,397.92 L66.05,398.69 L66.2,399.45 L66.35,400.21 L66.5,400.97 L66.65,401.73 L66.81,402.48 L66.96,403.23 L67.11,403.98 L67.26,404.73 L67.42,405.48 L67.57,406.23 L67.72,406.97 L67.87,407.71 L68.03,408.45 L68.18,409.19 L68.33,409.92 L68.48,410.64 L68.63,411.36 L68.79,412.08 L68.94,412.79 L69.09,413.5 L69.24,414.2 L69.4,414.89 L69.55,415.58 L69.7,416.26 L69.85,416.93 L70.01,417.6 L70.16,418.26 L70.31,418.9 L70.46,419.54 L70.61,420.17 L70.77,420.79 L70.92,421.4 L71.07,422 L71.22,422.59 L71.38,423.18 L71.68,424.33 L73.19,429.81 L74.7,434.89 L76.21,439.55 L77.72,443.81 L79.23,447.86 L80.75,451.77 L82.26,455.41 L83.77,458.68 L85.28,461.44 L86.79,463.65 L88.3,465.63 L89.81,467.46 L91.32,469.14 L92.83,470.66 L94.34,472.04 L95.85,473.28 L97.36,474.39 L98.87,475.38 L100.38,476.28 L101.9,477.14 L103.41,477.94 L104.92,478.69 L106.43,479.39 L107.94,480.03 L109.45,480.61 L110.96,481.14 L112.47,481.6 L113.98,482 L115.49,482.35 L117,482.69 L118.51,483.01 L120.02,483.31 L121.53,483.59 L123.05,483.85 L124.56,484.1 L126.07,484.32 L127.58,484.52 L129.09,484.69 L130.6,484.85 L132.11,484.99 L133.62,485.11 L135.13,485.22 L136.64,485.33 L138.15,485.43 L139.66,485.52 L141.17,485.61 L142.69,485.69 L144.2,485.77 L145.71,485.84 L147.22,485.91 L148.73,485.97 L150.24,486.02 L151.75,486.07 L153.26,486.12 L154.77,486.16 L156.28,486.2 L157.79,486.23 L159.3,486.27 L160.81,486.31 L162.32,486.34 L163.84,486.37 L165.35,486.4 L166.86,486.43 L168.37,486.45 L169.88,486.47 L171.39,486.49 L172.9,486.5 L174.41,486.5 L175.92,486.5 L177.43,486.5 L178.94,486.5 L180.45,486.5 L181.96,486.5 L183.47,486.5 L184.99,486.5 L186.5,486.5 L188.01,486.5 L189.52,486.5 L191.03,486.5 L192.54,486.5 L194.05,486.5 L195.56,486.5 L197.07,486.5 L198.58,486.5 L200.09,486.5 L201.6,486.5 L203.11,486.5 L204.63,486.5 L206.14,486.5 L207.65,486.5 L209.16,486.5 L210.67,486.5 L212.18,486.5 L213.69,486.5 L215.2,486.5 L216.71,486.5 L218.22,486.5 L219.73,486.5 L221.24,486.5 L222.75,486.5 L224.26,486.5 L225.78,486.5 L227.29,486.5 L228.8,486.5 L230.31,486.5 L231.82,486.5 L233.33,486.5 L234.84,486.5 L236.35,486.5 L237.86,486.5 L239.37,486.5 L240.88,486.5 L242.39,486.5 L243.9,486.5 L245.42,486.5 L246.93,486.5 L248.44,486.5 L249.95,486.5 L251.46,486.5 L252.97,486.5 L254.48,486.5 L255.99,486.5 L257.5,486.5 L259.01,486.5 L260.52,486.5 L262.03,486.5 L263.54,486.5 L265.05,486.5 L266.57,486.5 L268.08,486.5 L269.59,486.5 L271.1,486.5 L272.61,486.5 L274.12,486.5 L275.63,486.5 L277.14,486.5 L278.65,486.5 L280.16,486.5 L281.67,486.5 L283.18,486.5 L284.69,486.5 L286.2,486.5 L287.72,486.5 L289.23,486.5 L290.74,486.5 L292.25,486.5 L293.76,486.5 L295.27,486.5 L296.78,486.5" fill="none" stroke="#1f6fb5" stroke-width="1.3" stroke-linejoin="round" />
<path d="M40.92,486.5 L41.07,486.5 L41.22,486.5 L41.37,486.5 L41.53,486.5 L41.68,486.5 L41.83,486.5 L41.98,486.5 L42.13,486.5 L42.29,486.5 L42.44,486.5 L42.59,486.5 L42.74,486.5 L42.9,486.5 L43.05,486.5 L43.2,486.5 L43.35,486.5 L43.51,486.5 L43.66,486.5 L43.81,486.5 L43.96,486.5 L44.11,486.5 L44.27,486.5 L44.42,486.5 L44.57,486.5 L44.72,486.5 L44.88,486.5 L45.03,486.5 L45.18,486.5 L45.33,486.5 L45.48,486.5 L45.64,486.5 L45.79,486.5 L45.94,486.5 L46.09,486.5 L46.25,486.5 L46.4,486.5 L46.55,486.5 L46.7,486.5 L46.86,486.5 L47.01,486.5 L47.16,486.5 L47.31,486.5 L47.46,486.5 L47.62,486.5 L47.77,486.5 L47.92,486.5 L48.07,486.5 L48.23,486.5 L48.38,486.5 L48.53,486.5 L48.68,486.5 L48.84,486.5 L48.99,486.44 L49.14,486.26 L49.29,485.98 L49.44,485.62 L49.6,485.2 L49.75,484.72 L49.9,484.22 L50.05,483.69 L50.21,483.09 L50.36,482.34 L50.51,481.45 L50.66,480.43 L50.82,479.3 L50.97,478.05 L51.12,476.7 L51.27,475.27 L51.42,473.59 L51.58,471.57 L51.73,469.26 L51.88,466.73 L52.03,464.03 L52.19,461.23 L52.34,458.28 L52.49,455.1 L52.64,451.67 L52.8,447.97 L52.95,443.99 L53.1,439.7 L53.25,434.65 L53.4,428.8 L53.56,422.78 L53.71,417.24 L53.86,411.98 L54.01,406.78 L54.17,402.12 L54.32,398.52 L54.47,395.57 L54.62,392.85 L54.78,390.86 L54.93,390.09 L55.08,390.21 L55.23,390.51 L55.38,390.93 L55.54,391.4 L55.69,392.03 L55.84,392.92 L55.99,393.99 L56.15,395.17 L56.3,396.39 L56.45,397.58 L56.6,398.79 L56.76,400.1 L56.91,401.47 L57.06,402.88 L57.21,404.29 L57.36,405.67 L57.52,406.98 L57.67,408.21 L57.82,409.34 L57.97,410.43 L58.13,411.49 L58.28,412.52 L58.43,413.53 L58.58,414.5 L58.74,415.45 L58.89,416.38 L59.04,417.28 L59.19,418.17 L59.34,419.05 L59.5,419.91 L59.65,420.77 L59.8,421.6 L59.95,422.42 L60.11,423.22 L60.26,424 L60.41,424.75 L60.56,425.48 L60.72,426.18 L60.87,426.84 L61.02,427.48 L61.17,428.09 L61.32,428.68 L61.48,429.25 L61.63,429.8 L61.78,430.34 L61.93,430.87 L62.09,431.38 L62.24,431.88 L62.39,432.37 L62.54,432.86 L62.69,433.34 L62.85,433.81 L63,434.27 L63.15,434.73 L63.3,435.19 L63.46,435.64 L63.61,436.08 L63.76,436.52 L63.91,436.95 L64.07,437.38 L64.22,437.8 L64.37,438.22 L64.52,438.63 L64.67,439.04 L64.83,439.45 L64.98,439.85 L65.13,440.25 L65.28,440.65 L65.44,441.04 L65.59,441.43 L65.74,441.82 L65.89,442.21 L66.05,442.59 L66.2,442.98 L66.35,443.36 L66.5,443.74 L66.65,444.11 L66.81,444.49 L66.96,444.87 L67.11,445.24 L67.26,445.62 L67.42,445.99 L67.57,446.36 L67.72,446.74 L67.87,447.11 L68.03,447.48 L68.18,447.84 L68.33,448.21 L68.48,448.57 L68.63,448.93 L68.79,449.29 L68.94,449.65 L69.09,450 L69.24,450.35 L69.4,450.7 L69.55,451.04 L69.7,451.38 L69.85,451.72 L70.01,452.05 L70.16,452.38 L70.31,452.7 L70.46,453.02 L70.61,453.34 L70.77,453.65 L70.92,453.95 L71.07,454.25 L71.22,454.55 L71.38,454.84 L71.68,455.42 L73.19,458.16 L74.7,460.69 L76.21,463.02 L77.72,465.15 L79.23,467.18 L80.75,469.13 L82.26,470.96 L83.77,472.59 L85.28,473.97 L86.79,475.07 L88.3,476.07 L89.81,476.98 L91.32,477.82 L92.83,478.58 L94.34,479.27 L95.85,479.89 L97.36,480.45 L98.87,480.94 L100.38,481.39 L101.9,481.82 L103.41,482.22 L104.92,482.6 L106.43,482.94 L107.94,483.27 L109.45,483.56 L110.96,483.82 L112.47,484.05 L113.98,484.25 L115.49,484.43 L117,484.6 L118.51,484.76 L120.02,484.91 L121.53,485.05 L123.05,485.18 L124.56,485.3 L126.07,485.41 L127.58,485.51 L129.09,485.6 L130.6,485.68 L132.11,485.74 L133.62,485.8 L135.13,485.86 L136.64,485.91 L138.15,485.96 L139.66,486.01 L141.17,486.06 L142.69,486.1 L144.2,486.14 L145.71,486.17 L147.22,486.2 L148.73,486.23 L150.24,486.26 L151.75,486.29 L153.26,486.31 L154.77,486.33 L156.28,486.35 L157.79,486.37 L159.3,486.39 L160.81,486.4 L162.32,486.42 L163.84,486.44 L165.35,486.45 L166.86,486.46 L168.37,486.48 L169.88,486.49 L171.39,486.49 L172.9,486.5 L174.41,486.5 L175.92,486.5 L177.43,486.5 L178.94,486.5 L180.45,486.5 L181.96,486.5 L183.47,486.5 L184.99,486.5 L186.5,486.5 L188.01,486.5 L189.52,486.5 L191.03,486.5 L192.54,486.5 L194.05,486.5 L195.56,486.5 L197.07,486.5 L198.58,486.5 L200.09,486.5 L201.6,486.5 L203.11,486.5 L204.63,486.5 L206.14,486.5 L207.65,486.5 L209.16,486.5 L210.67,486.5 L212.18,486.5 L213.69,486.5 L215.2,486.5 L216.71,486.5 L218.22,486.5 L219.73,486.5 L221.24,486.5 L222.75,486.5 L224.26,486.5 L225.78,486.5 L227.29,486.5 L228.8,486.5 L230.31,486.5 L231.82,486.5 L233.33,486.5 L234.84,486.5 L236.35,486.5 L237.86,486.5 L239.37,486.5 L240.88,486.5 L242.39,486.5 L243.9,486.5 L245.42,486.5 L246.93,486.5 L248.44,486.5 L249.95,486.5 L251.46,486.5 L252.97,486.5 L254.48,486.5 L255.99,486.5 L257.5,486.5 L259.01,486.5 L260.52,486.5 L262.03,486.5 L263.54,486.5 L265.05,486.5 L266.57,486.5 L268.08,486.5 L269.59,486.5 L271.1,486.5 L272.61,486.5 L274.12,486.5 L275.63,486.5 L277.14,486.5 L278.65,486.5 L280.16,486.5 L281.67,486.5 L283.18,486.5 L284.69,486.5 L286.2,486.5 L287.72,486.5 L289.23,486.5 L290.74,486.5 L292.25,486.5 L293.76,486.5 L295.27,486.5 L296.78,486.5" fill="none" stroke="#1f6fb5" stroke-width="1.3" stroke-linejoin="round" />
<path d="M40.92,486.5 L41.07,486.5 L41.22,486.5 L41.37,486.5 L41.53,486.5 L41.68,486.5 L41.83,486.5 L41.98,486.5 L42.13,486.5 L42.29,486.5 L42.44,486.5 L42.59,486.5 L42.74,486.5 L42.9,486.5 L43.05,486.5 L43.2,486.5 L43.35,486.5 L43.51,486.5 L43.66,486.5 L43.81,486.5 L43.96,486.5 L44.11,486.5 L44.27,486.5 L44.42,486.5 L44.57,486.5 L44.72,486.5 L44.88,486.5 L45.03,486.5 L45.18,486.5 L45.33,486.5 L45.48,486.5 L45.64,486.5 L45.79,486.5 L45.94,486.5 L46.09,486.5 L46.25,486.5 L46.4,486.5 L46.55,486.5 L46.7,486.5 L46.86,486.5 L47.01,486.5 L47.16,486.5 L47.31,486.5 L47.46,486.5 L47.62,486.5 L47.77,486.5 L47.92,486.5 L48.07,486.5 L48.23,486.5 L48.38,486.5 L48.53,486.5 L48.68,486.5 L48.84,486.5 L48.99,486.49 L49.14,486.47 L49.29,486.45 L49.44,486.41 L49.6,486.36 L49.75,486.31 L49.9,486.26 L50.05,486.2 L50.21,486.14 L50.36,486.06 L50.51,485.96 L50.66,485.86 L50.82,485.74 L50.97,485.6 L51.12,485.46 L51.27,485.31 L51.42,485.13 L51.58,484.92 L51.73,484.67 L51.88,484.4 L52.03,484.12 L52.19,483.82 L52.34,483.51 L52.49,483.17 L52.64,482.81 L52.8,482.42 L52.95,481.99 L53.1,481.54 L53.25,481 L53.4,480.38 L53.56,479.75 L53.71,479.16 L53.86,478.6 L54.01,478.05 L54.17,477.56 L54.32,477.17 L54.47,476.86 L54.62,476.57 L54.78,476.36 L54.93,476.28 L55.08,476.29 L55.23,476.32 L55.38,476.37 L55.54,476.42 L55.69,476.49 L55.84,476.58 L55.99,476.69 L56.15,476.82 L56.3,476.95 L56.45,477.07 L56.6,477.2 L56.76,477.34 L56.91,477.49 L57.06,477.64 L57.21,477.79 L57.36,477.93 L57.52,478.07 L57.67,478.2 L57.82,478.32 L57.97,478.44 L58.13,478.55 L58.28,478.66 L58.43,478.76 L58.58,478.87 L58.74,478.97 L58.89,479.07 L59.04,479.16 L59.19,479.26 L59.34,479.35 L59.5,479.44 L59.65,479.53 L59.8,479.62 L59.95,479.71 L60.11,479.79 L60.26,479.88 L60.41,479.95 L60.56,480.03 L60.72,480.11 L60.87,480.18 L61.02,480.24 L61.17,480.31 L61.32,480.37 L61.48,480.43 L61.63,480.49 L61.78,480.55 L61.93,480.6 L62.09,480.66 L62.24,480.71 L62.39,480.76 L62.54,480.81 L62.69,480.86 L62.85,480.91 L63,480.96 L63.15,481.01 L63.3,481.06 L63.46,481.11 L63.61,481.16 L63.76,481.2 L63.91,481.25 L64.07,481.29 L64.22,481.34 L64.37,481.38 L64.52,481.43 L64.67,481.47 L64.83,481.51 L64.98,481.56 L65.13,481.6 L65.28,481.64 L65.44,481.68 L65.59,481.72 L65.74,481.76 L65.89,481.81 L66.05,481.85 L66.2,481.89 L66.35,481.93 L66.5,481.97 L66.65,482.01 L66.81,482.05 L66.96,482.09 L67.11,482.13 L67.26,482.17 L67.42,482.21 L67.57,482.25 L67.72,482.29 L67.87,482.32 L68.03,482.36 L68.18,482.4 L68.33,482.44 L68.48,482.48 L68.63,482.52 L68.79,482.56 L68.94,482.59 L69.09,482.63 L69.24,482.67 L69.4,482.7 L69.55,482.74 L69.7,482.78 L69.85,482.81 L70.01,482.85 L70.16,482.88 L70.31,482.92 L70.46,482.95 L70.61,482.98 L70.77,483.02 L70.92,483.05 L71.07,483.08 L71.22,483.11 L71.38,483.14 L71.68,483.21 L73.19,483.5 L74.7,483.76 L76.21,484.01 L77.72,484.24 L79.23,484.45 L80.75,484.66 L82.26,484.85 L83.77,485.03 L85.28,485.17 L86.79,485.29 L88.3,485.39 L89.81,485.49 L91.32,485.58 L92.83,485.66 L94.34,485.73 L95.85,485.8 L97.36,485.86 L98.87,485.91 L100.38,485.96 L101.9,486 L103.41,486.05 L104.92,486.09 L106.43,486.12 L107.94,486.16 L109.45,486.19 L110.96,486.22 L112.47,486.24 L113.98,486.26 L115.49,486.28 L117,486.3 L118.51,486.32 L120.02,486.33 L121.53,486.35 L123.05,486.36 L124.56,486.37 L126.07,486.38 L127.58,486.39 L129.09,486.4 L130.6,486.41 L132.11,486.42 L133.62,486.43 L135.13,486.43 L136.64,486.44 L138.15,486.44 L139.66,486.45 L141.17,486.45 L142.69,486.46 L144.2,486.46 L145.71,486.47 L147.22,486.47 L148.73,486.47 L150.24,486.47 L151.75,486.48 L153.26,486.48 L154.77,486.48 L156.28,486.48 L157.79,486.49 L159.3,486.49 L160.81,486.49 L162.32,486.49 L163.84,486.49 L165.35,486.49 L166.86,486.5 L168.37,486.5 L169.88,486.5 L171.39,486.5 L172.9,486.5 L174.41,486.5 L175.92,486.5 L177.43,486.5 L178.94,486.5 L180.45,486.5 L181.96,486.5 L183.47,486.5 L184.99,486.5 L186.5,486.5 L188.01,486.5 L189.52,486.5 L191.03,486.5 L192.54,486.5 L194.05,486.5 L195.56,486.5 L197.07,486.5 L198.58,486.5 L200.09,486.5 L201.6,486.5 L203.11,486.5 L204.63,486.5 L206.14,486.5 L207.65,486.5 L209.16,486.5 L210.67,486.5 L212.18,486.5 L213.69,486.5 L215.2,486.5 L216.71,486.5 L218.22,486.5 L219.73,486.5 L221.24,486.5 L222.75,486.5 L224.26,486.5 L225.78,486.5 L227.29,486.5 L228.8,486.5 L230.31,486.5 L231.82,486.5 L233.33,486.5 L234.84,486.5 L236.35,486.5 L237.86,486.5 L239.37,486.5 L240.88,486.5 L242.39,486.5 L243.9,486.5 L245.42,486.5 L246.93,486.5 L248.44,486.5 L249.95,486.5 L251.46,486.5 L252.97,486.5 L254.48,486.5 L255.99,486.5 L257.5,486.5 L259.01,486.5 L260.52,486.5 L262.03,486.5 L263.54,486.5 L265.05,486.5 L266.57,486.5 L268.08,486.5 L269.59,486.5 L271.1,486.5 L272.61,486.5 L274.12,486.5 L275.63,486.5 L277.14,486.5 L278.65,486.5 L280.16,486.5 L281.67,486.5 L283.18,486.5 L284.69,486.5 L286.2,486.5 L287.72,486.5 L289.23,486.5 L290.74,486.5 L292.25,486.5 L293.76,486.5 L295.27,486.5 L296.78,486.5" fill="none" stroke="#1f6fb5" stroke-width="1.3" stroke-linejoin="round" />
</g>
<rect x="100" y="317" width="3.2" height="170" fill="#bcbcbc"/>
<path d="M101.6,305.6 L107.8,319.9 L101.6,317.6 L95.4,319.9 Z" fill="#bcbcbc"/>
<text x="109.5" y="395.2" font-size="10.5" text-anchor="start" fill="#333" font-weight="normal" font-style="italic" >F</text>
<ellipse cx="231.3" cy="370.8" rx="4.9" ry="11.8" fill="none" stroke="#e8141c" stroke-width="0.9"/>
<line x1="238" y1="367.5" x2="251" y2="367.5" stroke="#e8141c" stroke-width="1.2"/>
<path d="M255,367.5 L250.2,364.8 L250.2,370.2 Z" fill="#e8141c"/>
<rect x="41.3" y="288.5" width="255.3" height="199.5" fill="none" stroke="#3a3a3a" stroke-width="1.3"/>
<line x1="53.1" y1="488" x2="53.1" y2="485.5" stroke="#3a3a3a" stroke-width="0.9"/>
<line x1="53.1" y1="288.6" x2="53.1" y2="291.1" stroke="#3a3a3a" stroke-width="0.9"/>
<line x1="83.56" y1="488" x2="83.56" y2="485.5" stroke="#3a3a3a" stroke-width="0.9"/>
<line x1="83.56" y1="288.6" x2="83.56" y2="291.1" stroke="#3a3a3a" stroke-width="0.9"/>
<line x1="114.02" y1="488" x2="114.02" y2="485.5" stroke="#3a3a3a" stroke-width="0.9"/>
<line x1="114.02" y1="288.6" x2="114.02" y2="291.1" stroke="#3a3a3a" stroke-width="0.9"/>
<line x1="144.48" y1="488" x2="144.48" y2="485.5" stroke="#3a3a3a" stroke-width="0.9"/>
<line x1="144.48" y1="288.6" x2="144.48" y2="291.1" stroke="#3a3a3a" stroke-width="0.9"/>
<line x1="174.94" y1="488" x2="174.94" y2="485.5" stroke="#3a3a3a" stroke-width="0.9"/>
<line x1="174.94" y1="288.6" x2="174.94" y2="291.1" stroke="#3a3a3a" stroke-width="0.9"/>
<line x1="205.4" y1="488" x2="205.4" y2="485.5" stroke="#3a3a3a" stroke-width="0.9"/>
<line x1="205.4" y1="288.6" x2="205.4" y2="291.1" stroke="#3a3a3a" stroke-width="0.9"/>
<line x1="235.86" y1="488" x2="235.86" y2="485.5" stroke="#3a3a3a" stroke-width="0.9"/>
<line x1="235.86" y1="288.6" x2="235.86" y2="291.1" stroke="#3a3a3a" stroke-width="0.9"/>
<line x1="266.32" y1="488" x2="266.32" y2="485.5" stroke="#3a3a3a" stroke-width="0.9"/>
<line x1="266.32" y1="288.6" x2="266.32" y2="291.1" stroke="#3a3a3a" stroke-width="0.9"/>
<line x1="296.78" y1="488" x2="296.78" y2="485.5" stroke="#3a3a3a" stroke-width="0.9"/>
<line x1="296.78" y1="288.6" x2="296.78" y2="291.1" stroke="#3a3a3a" stroke-width="0.9"/>
<line x1="41.4" y1="486.5" x2="43.9" y2="486.5" stroke="#1f6fb5" stroke-width="1.0"/>
<line x1="41.4" y1="467.78" x2="43.9" y2="467.78" stroke="#1f6fb5" stroke-width="1.0"/>
<line x1="41.4" y1="449.06" x2="43.9" y2="449.06" stroke="#1f6fb5" stroke-width="1.0"/>
<line x1="41.4" y1="430.34" x2="43.9" y2="430.34" stroke="#1f6fb5" stroke-width="1.0"/>
<line x1="41.4" y1="411.62" x2="43.9" y2="411.62" stroke="#1f6fb5" stroke-width="1.0"/>
<line x1="41.4" y1="392.9" x2="43.9" y2="392.9" stroke="#1f6fb5" stroke-width="1.0"/>
<line x1="41.4" y1="374.18" x2="43.9" y2="374.18" stroke="#1f6fb5" stroke-width="1.0"/>
<line x1="41.4" y1="355.46" x2="43.9" y2="355.46" stroke="#1f6fb5" stroke-width="1.0"/>
<line x1="41.4" y1="336.74" x2="43.9" y2="336.74" stroke="#1f6fb5" stroke-width="1.0"/>
<line x1="41.4" y1="318.02" x2="43.9" y2="318.02" stroke="#1f6fb5" stroke-width="1.0"/>
<line x1="41.4" y1="299.3" x2="43.9" y2="299.3" stroke="#1f6fb5" stroke-width="1.0"/>
<line x1="296.6" y1="485.7" x2="294.1" y2="485.7" stroke="#e8141c" stroke-width="1.0"/>
<line x1="296.6" y1="455.8" x2="294.1" y2="455.8" stroke="#e8141c" stroke-width="1.0"/>
<line x1="296.6" y1="425.9" x2="294.1" y2="425.9" stroke="#e8141c" stroke-width="1.0"/>
<line x1="296.6" y1="396" x2="294.1" y2="396" stroke="#e8141c" stroke-width="1.0"/>
<line x1="296.6" y1="366.1" x2="294.1" y2="366.1" stroke="#e8141c" stroke-width="1.0"/>
<line x1="296.6" y1="336.2" x2="294.1" y2="336.2" stroke="#e8141c" stroke-width="1.0"/>
<line x1="296.6" y1="306.3" x2="294.1" y2="306.3" stroke="#e8141c" stroke-width="1.0"/>
<text x="38.4" y="490.2" font-size="10.5" text-anchor="end" fill="#2a7bbf" font-weight="normal" font-style="normal" >0</text>
<text x="38.4" y="452.76" font-size="10.5" text-anchor="end" fill="#2a7bbf" font-weight="normal" font-style="normal" >0.01</text>
<text x="38.4" y="415.32" font-size="10.5" text-anchor="end" fill="#2a7bbf" font-weight="normal" font-style="normal" >0.02</text>
<text x="38.4" y="377.88" font-size="10.5" text-anchor="end" fill="#2a7bbf" font-weight="normal" font-style="normal" >0.03</text>
<text x="38.4" y="340.44" font-size="10.5" text-anchor="end" fill="#2a7bbf" font-weight="normal" font-style="normal" >0.04</text>
<text x="38.4" y="303" font-size="10.5" text-anchor="end" fill="#2a7bbf" font-weight="normal" font-style="normal" >0.05</text>
<text x="299" y="489.4" font-size="10.5" text-anchor="start" fill="#e8141c" font-weight="normal" font-style="normal" >0</text>
<text x="299" y="459.5" font-size="10.5" text-anchor="start" fill="#e8141c" font-weight="normal" font-style="normal" >2</text>
<text x="299" y="429.6" font-size="10.5" text-anchor="start" fill="#e8141c" font-weight="normal" font-style="normal" >4</text>
<text x="299" y="399.7" font-size="10.5" text-anchor="start" fill="#e8141c" font-weight="normal" font-style="normal" >6</text>
<text x="299" y="369.8" font-size="10.5" text-anchor="start" fill="#e8141c" font-weight="normal" font-style="normal" >8</text>
<text x="299" y="339.9" font-size="10.5" text-anchor="start" fill="#e8141c" font-weight="normal" font-style="normal" >10</text>
<text x="299" y="310" font-size="10.5" text-anchor="start" fill="#e8141c" font-weight="normal" font-style="normal" >12</text>
<text x="296.8" y="285.6" font-size="7" text-anchor="start" fill="#e8141c" font-weight="normal" font-style="normal" >&#215;</text>
<text x="301.6" y="285.8" font-size="10" text-anchor="start" fill="#e8141c" font-weight="normal" font-style="normal" >10<tspan font-size="6.6" dy="-3.6">-3</tspan></text>
<text x="53.1" y="499.9" font-size="10.3" text-anchor="middle" fill="#222" font-weight="normal" font-style="normal" >0</text>
<text x="114.8" y="499.9" font-size="10.3" text-anchor="middle" fill="#222" font-weight="normal" font-style="normal" >200</text>
<text x="177.5" y="499.9" font-size="10.3" text-anchor="middle" fill="#222" font-weight="normal" font-style="normal" >400</text>
<text x="236.9" y="499.9" font-size="10.3" text-anchor="middle" fill="#222" font-weight="normal" font-style="normal" >600</text>
<text x="297" y="499.9" font-size="10.3" text-anchor="middle" fill="#222" font-weight="normal" font-style="normal" >800</text>
<text x="148.7" y="513.6" font-size="11.7" text-anchor="start" fill="#222" font-weight="normal" font-style="normal" >Time [fs]</text>
<text x="11.2" y="386.3" font-size="12.5" text-anchor="middle" fill="#2a7bbf" font-weight="normal" font-style="normal" transform="rotate(-90 11.2 386.3)" >&#916;&#949;<tspan font-size="8" dy="3">2NT</tspan></text>
<text x="311.3" y="386.2" font-size="11.6" text-anchor="middle" fill="#e8141c" font-weight="normal" font-style="normal" transform="rotate(90 311.3 386.2)" >&#916;&#949;<tspan font-size="7.5" dy="2.8">2T</tspan></text>
<text x="347.4" y="12.6" font-size="13.8" text-anchor="start" fill="#1a1a1a" font-weight="bold" font-style="normal" >c</text>
<g clip-path="url(#clipC)">
<path d="M382.6,19.5 C383.87,19.63 387.23,19.97 390.2,20.3 C393.17,20.63 397.5,21.05 400.4,21.5 C403.3,21.95 405.88,22.95 407.6,23 C409.32,23.05 409.33,21.67 410.7,21.8 C412.07,21.93 414.1,23.27 415.8,23.8 C417.5,24.33 419.2,24.37 420.9,25 C422.6,25.63 424.47,26.63 426,27.6 C427.53,28.57 428.92,29.57 430.1,30.8 C431.28,32.03 432.17,33.22 433.1,35 C434.03,36.78 435.02,39.33 435.7,41.5 C436.38,43.67 436.73,45.42 437.2,48 C437.67,50.58 438.07,53.67 438.5,57 C438.93,60.33 439.35,63.83 439.8,68 C440.25,72.17 440.67,76.67 441.2,82 C441.73,87.33 442.42,94.07 443,100 C443.58,105.93 443.87,112.2 444.7,117.6 C445.53,123 446.37,129.12 448,132.4 C449.63,135.68 452.05,135.27 454.5,137.3 C456.95,139.33 459.97,142.4 462.7,144.6 C465.43,146.8 468.17,148.85 470.9,150.5 C473.63,152.15 476.37,153.5 479.1,154.5 C481.83,155.5 483.82,155.98 487.3,156.5 C490.78,157.02 494.55,157.35 500,157.6 C505.45,157.85 513.33,158 520,158 C526.67,158 533.33,158.07 540,157.6 C546.67,157.13 553.33,155.93 560,155.2 C566.67,154.47 573.33,153.83 580,153.2 C586.67,152.57 593.83,152.07 600,151.4 C606.17,150.73 611.17,149.97 617,149.2 C622.83,148.43 630.33,147.8 635,146.8 C639.67,145.8 642.17,143.7 645,143.2 C647.83,142.7 649.17,143.8 652,143.8 C654.83,143.8 658.17,143.52 662,143.2 C665.83,142.88 672.83,142.12 675,141.9" fill="none" stroke="#808080" stroke-width="0.9" stroke-dasharray="2.2,1.2" stroke-linejoin="round" />
<path d="M382.6,19.2 C383.87,19.33 387.23,19.67 390.2,20 C393.17,20.33 397.5,20.78 400.4,21.2 C403.3,21.62 405.88,22.33 407.6,22.5 C409.32,22.67 409.33,22.02 410.7,22.2 C412.07,22.38 414.1,23.17 415.8,23.6 C417.5,24.03 419.2,24.18 420.9,24.8 C422.6,25.42 424.47,26.37 426,27.3 C427.53,28.23 428.92,29.2 430.1,30.4 C431.28,31.6 432.17,32.8 433.1,34.5 C434.03,36.2 435.02,38.55 435.7,40.6 C436.38,42.65 436.73,44.4 437.2,46.8 C437.67,49.2 438.07,51.8 438.5,55 C438.93,58.2 439.35,61.83 439.8,66 C440.25,70.17 440.65,74.93 441.2,80 C441.75,85.07 442.23,90.53 443.1,96.4 C443.97,102.27 444.5,110.52 446.4,115.2 C448.3,119.88 451.78,121.62 454.5,124.5 C457.22,127.38 459.97,129.83 462.7,132.5 C465.43,135.17 468.17,138.12 470.9,140.5 C473.63,142.88 476.37,144.92 479.1,146.8 C481.83,148.68 484.57,150.4 487.3,151.8 C490.03,153.2 492.78,154.33 495.5,155.2 C498.22,156.07 500.35,156.57 503.6,157 C506.85,157.43 510.6,157.63 515,157.8 C519.4,157.97 525,158 530,158 C535,158 540,157.93 545,157.8 C550,157.67 554.17,157.53 560,157.2 C565.83,156.87 573.33,156.3 580,155.8 C586.67,155.3 593.83,154.8 600,154.2 C606.17,153.6 610.33,152.97 617,152.2 C623.67,151.43 632.83,150.42 640,149.6 C647.17,148.78 654.17,148.02 660,147.3 C665.83,146.58 672.5,145.63 675,145.3" fill="none" stroke="#808080" stroke-width="1.1" stroke-linejoin="round" />
<path d="M411.5,19.2 C413.75,19.2 421.42,19.2 425,19.2 C428.58,19.2 431.42,19.15 433,19.2 C434.58,19.25 434.08,19.32 434.5,19.5 C434.92,19.68 435.13,19.85 435.5,20.3 C435.87,20.75 436.33,21.03 436.7,22.2 C437.07,23.37 437.42,25.6 437.7,27.3 C437.98,29 438.18,30.55 438.4,32.4 C438.62,34.25 438.8,35.5 439,38.4 C439.2,41.3 439.4,45.53 439.6,49.8 C439.8,54.07 440,59.63 440.2,64 C440.4,68.37 440.58,71.67 440.8,76 C441.02,80.33 441.25,85.25 441.5,90 C441.75,94.75 442.03,100.5 442.3,104.5 C442.57,108.5 442.83,111.27 443.1,114 C443.37,116.73 443.58,118.82 443.9,120.9 C444.22,122.98 444.58,124.87 445,126.5 C445.42,128.13 445.57,129.25 446.4,130.7 C447.23,132.15 448.65,133.83 450,135.2 C451.35,136.57 452.38,137.18 454.5,138.9 C456.62,140.62 459.97,143.45 462.7,145.5 C465.43,147.55 468.17,149.7 470.9,151.2 C473.63,152.7 476.37,153.68 479.1,154.5 C481.83,155.32 483.82,155.6 487.3,156.1 C490.78,156.6 495.38,157.17 500,157.5 C504.62,157.83 510,158 515,158.1 C520,158.2 525,158.22 530,158.1 C535,157.98 540,157.97 545,157.4 C550,156.83 554.17,155.52 560,154.7 C565.83,153.88 573.33,153.15 580,152.5 C586.67,151.85 593.83,151.35 600,150.8 C606.17,150.25 610.33,149.95 617,149.2 C623.67,148.45 632.83,147.12 640,146.3 C647.17,145.48 654.17,144.88 660,144.3 C665.83,143.72 672.5,143.05 675,142.8" fill="none" stroke="#45b0e0" stroke-width="1.2" stroke-dasharray="4,1.5,1.3,1.5" stroke-linejoin="round" />
<path d="M411.5,19.2 C413.75,19.2 421.42,19.2 425,19.2 C428.58,19.2 431.42,19.15 433,19.2 C434.58,19.25 434.08,19.32 434.5,19.5 C434.92,19.68 435.13,19.85 435.5,20.3 C435.87,20.75 436.33,21.03 436.7,22.2 C437.07,23.37 437.42,25.6 437.7,27.3 C437.98,29 438.18,30.55 438.4,32.4 C438.62,34.25 438.8,35.5 439,38.4 C439.2,41.3 439.4,45.7 439.6,49.8 C439.8,53.9 440,59.13 440.2,63 C440.4,66.87 440.58,70 440.8,73 C441.02,76 441.22,77.83 441.5,81 C441.78,84.17 442.17,88.67 442.5,92 C442.83,95.33 443.12,98.08 443.5,101 C443.88,103.92 444.32,107.08 444.8,109.5 C445.28,111.92 445.53,113.65 446.4,115.5 C447.27,117.35 448.65,118.88 450,120.6 C451.35,122.32 452.38,123.57 454.5,125.8 C456.62,128.03 459.97,131.27 462.7,134 C465.43,136.73 468.17,139.75 470.9,142.2 C473.63,144.65 476.37,146.8 479.1,148.7 C481.83,150.6 484.57,152.37 487.3,153.6 C490.03,154.83 492.78,155.48 495.5,156.1 C498.22,156.72 500.35,156.98 503.6,157.3 C506.85,157.62 510.6,157.83 515,158 C519.4,158.17 525,158.28 530,158.3 C535,158.32 540,158.25 545,158.1 C550,157.95 554.17,157.77 560,157.4 C565.83,157.03 573.33,156.43 580,155.9 C586.67,155.37 593.83,154.87 600,154.2 C606.17,153.53 610.33,152.72 617,151.9 C623.67,151.08 632.83,150.05 640,149.3 C647.17,148.55 654.17,148.02 660,147.4 C665.83,146.78 672.5,145.9 675,145.6" fill="none" stroke="#45b0e0" stroke-width="1.4" stroke-linejoin="round" />
</g>
<rect x="382.2" y="17.6" width="292.9" height="140.7" fill="none" stroke="#808080" stroke-width="1.5"/>
<line x1="440.3" y1="158.3" x2="440.3" y2="155.3" stroke="#808080" stroke-width="0.9"/>
<line x1="440.3" y1="17.6" x2="440.3" y2="20.6" stroke="#808080" stroke-width="0.9"/>
<line x1="498.98" y1="158.3" x2="498.98" y2="155.3" stroke="#808080" stroke-width="0.9"/>
<line x1="498.98" y1="17.6" x2="498.98" y2="20.6" stroke="#808080" stroke-width="0.9"/>
<line x1="557.66" y1="158.3" x2="557.66" y2="155.3" stroke="#808080" stroke-width="0.9"/>
<line x1="557.66" y1="17.6" x2="557.66" y2="20.6" stroke="#808080" stroke-width="0.9"/>
<line x1="616.34" y1="158.3" x2="616.34" y2="155.3" stroke="#808080" stroke-width="0.9"/>
<line x1="616.34" y1="17.6" x2="616.34" y2="20.6" stroke="#808080" stroke-width="0.9"/>
<line x1="675.02" y1="158.3" x2="675.02" y2="155.3" stroke="#808080" stroke-width="0.9"/>
<line x1="675.02" y1="17.6" x2="675.02" y2="20.6" stroke="#808080" stroke-width="0.9"/>
<line x1="382.2" y1="18.7" x2="385.2" y2="18.7" stroke="#808080" stroke-width="0.9"/>
<line x1="675.1" y1="18.7" x2="672.1" y2="18.7" stroke="#808080" stroke-width="0.9"/>
<line x1="382.2" y1="46.64" x2="385.2" y2="46.64" stroke="#808080" stroke-width="0.9"/>
<line x1="675.1" y1="46.64" x2="672.1" y2="46.64" stroke="#808080" stroke-width="0.9"/>
<line x1="382.2" y1="74.58" x2="385.2" y2="74.58" stroke="#808080" stroke-width="0.9"/>
<line x1="675.1" y1="74.58" x2="672.1" y2="74.58" stroke="#808080" stroke-width="0.9"/>
<line x1="382.2" y1="102.52" x2="385.2" y2="102.52" stroke="#808080" stroke-width="0.9"/>
<line x1="675.1" y1="102.52" x2="672.1" y2="102.52" stroke="#808080" stroke-width="0.9"/>
<line x1="382.2" y1="130.46" x2="385.2" y2="130.46" stroke="#808080" stroke-width="0.9"/>
<line x1="675.1" y1="130.46" x2="672.1" y2="130.46" stroke="#808080" stroke-width="0.9"/>
<line x1="382.2" y1="158.4" x2="385.2" y2="158.4" stroke="#808080" stroke-width="0.9"/>
<line x1="675.1" y1="158.4" x2="672.1" y2="158.4" stroke="#808080" stroke-width="0.9"/>
<text x="379.8" y="22.4" font-size="10.4" text-anchor="end" fill="#222" font-weight="normal" font-style="normal" >0</text>
<text x="379.8" y="50.34" font-size="10.4" text-anchor="end" fill="#222" font-weight="normal" font-style="normal" >-0.2</text>
<text x="379.8" y="78.28" font-size="10.4" text-anchor="end" fill="#222" font-weight="normal" font-style="normal" >-0.4</text>
<text x="379.8" y="106.22" font-size="10.4" text-anchor="end" fill="#222" font-weight="normal" font-style="normal" >-0.6</text>
<text x="379.8" y="134.16" font-size="10.4" text-anchor="end" fill="#222" font-weight="normal" font-style="normal" >-0.8</text>
<text x="379.8" y="162.1" font-size="10.4" text-anchor="end" fill="#222" font-weight="normal" font-style="normal" >-1</text>
<text x="440.3" y="170.2" font-size="10.4" text-anchor="middle" fill="#222" font-weight="normal" font-style="normal" >0</text>
<text x="499.2" y="170.2" font-size="10.4" text-anchor="middle" fill="#222" font-weight="normal" font-style="normal" >100</text>
<text x="557.4" y="170.2" font-size="10.4" text-anchor="middle" fill="#222" font-weight="normal" font-style="normal" >200</text>
<text x="616.2" y="170.2" font-size="10.4" text-anchor="middle" fill="#222" font-weight="normal" font-style="normal" >300</text>
<text x="674" y="170.2" font-size="10.4" text-anchor="middle" fill="#222" font-weight="normal" font-style="normal" >400</text>
<text x="513.3" y="182.4" font-size="11.7" text-anchor="start" fill="#222" font-weight="normal" font-style="normal" >Time [fs]</text>
<text x="355.9" y="88.5" font-size="11.5" text-anchor="middle" fill="#222" font-weight="normal" font-style="normal" transform="rotate(-90 355.9 88.5)" >&#916;R/R</text>
<line x1="488.9" y1="30.3" x2="512.8" y2="30.3" stroke="#808080" stroke-width="1.1"/>
<line x1="488.9" y1="43.3" x2="512.8" y2="43.3" stroke="#45b0e0" stroke-width="1.4"/>
<text x="516.7" y="32.9" font-size="7.7" text-anchor="start" fill="#222" font-weight="normal" font-style="normal" >Exp</text>
<text x="516.7" y="45.8" font-size="7.7" text-anchor="start" fill="#222" font-weight="normal" font-style="normal" >Th</text>
<line x1="580.6" y1="30.5" x2="603.5" y2="30.5" stroke="#45b0e0" stroke-width="1.3"/>
<line x1="580.6" y1="43.6" x2="603.5" y2="43.6" stroke="#45b0e0" stroke-width="1.3" stroke-dasharray="3,1.2,1,1.2"/>
<text x="606.4" y="33.6" font-size="8.6" text-anchor="start" fill="#222" font-weight="normal" font-style="normal" ><tspan font-style="italic">F</tspan>=5.7 J/m<tspan font-size="5.3" dy="-3.3">2</tspan></text>
<text x="606.4" y="46.7" font-size="8.6" text-anchor="start" fill="#222" font-weight="normal" font-style="normal" ><tspan font-style="italic">F</tspan>=3.6 J/m<tspan font-size="5.3" dy="-3.3">2</tspan></text>
<defs><radialGradient id="pcg" cx="0.5" cy="0.5" r="0.6">
<stop offset="0" stop-color="#cfae4c"/><stop offset="0.55" stop-color="#c6882c"/><stop offset="1" stop-color="#b9711e"/></radialGradient>
<filter id="spk" x="0" y="0" width="100%" height="100%"><feTurbulence type="fractalNoise" baseFrequency="1.1" numOctaves="1" seed="4" result="n"/>
<feColorMatrix in="n" type="matrix" values="0 0 0 0 0.5 0 0 0 0 0.28 0 0 0 0 0.06 2.4 0 0 0 -0.85" result="d"/>
<feComposite in="d" in2="SourceAlpha" operator="in" result="d2"/>
<feMerge><feMergeNode in="SourceGraphic"/><feMergeNode in="d2"/></feMerge></filter></defs>
<rect x="600.4" y="60" width="39.9" height="60.2" fill="#fff" stroke="#21a354" stroke-width="1.6"/>
<path d="M605.4,75 L631.2,62.3 L635.3,64 L609.8,76.8 Z" fill="#cde0ee"/>
<path d="M605.4,75 L609.8,76.8 L609.8,118.4 L605.4,115.6 Z" fill="#bcd3e5"/>
<path d="M609.8,76.8 L635.3,64 L635.3,105.7 L609.8,118.4 Z" fill="url(#pcg)" filter="url(#spk)"/>
<text x="621.6" y="129.8" font-size="9.8" text-anchor="middle" fill="#222" font-weight="normal" font-style="normal" >PC</text>
<text x="346.4" y="200.2" font-size="13.5" text-anchor="start" fill="#1a1a1a" font-weight="bold" font-style="normal" >d</text>
<g clip-path="url(#clipD1)">
<path d="M380.7,308.3 L381.57,308.3 L382.44,308.3 L383.32,308.29 L384.19,308.29 L385.06,308.28 L385.93,308.27 L386.8,308.26 L387.68,308.25 L388.55,308.24 L389.42,308.23 L390.29,308.22 L391.16,308.21 L392.04,308.2 L392.91,308.18 L393.78,308.16 L394.65,308.14 L395.52,308.11 L396.4,308.08 L397.27,308.05 L398.14,308.02 L399.01,307.99 L399.88,307.95 L400.76,307.91 L401.63,307.86 L402.5,307.8 L403.37,307.74 L404.24,307.68 L405.12,307.6 L405.99,307.52 L406.86,307.44 L407.73,307.35 L408.6,307.26 L409.48,307.16 L410.35,307.05 L411.22,306.94 L412.09,306.83 L412.96,306.71 L413.84,306.59 L414.71,306.46 L415.58,306.32 L416.45,306.16 L417.32,305.99 L418.2,305.81 L419.07,305.62 L419.94,305.41 L420.81,305.19 L421.68,304.97 L422.56,304.73 L423.43,304.48 L424.3,304.22 L425.17,303.95 L426.04,303.67 L426.92,303.38 L427.79,303.09 L428.66,302.76 L429.53,302.4 L430.4,302.01 L431.28,301.58 L432.15,301.13 L433.02,300.66 L433.89,300.17 L434.76,299.67 L435.64,299.14 L436.51,298.58 L437.38,297.98 L438.25,297.36 L439.12,296.71 L440,296.04 L440.87,295.37 L441.74,294.68 L442.61,293.98 L443.48,293.26 L444.36,292.52 L445.23,291.76 L446.1,290.97 L446.97,290.16 L447.84,289.31 L448.72,288.43 L449.59,287.49 L450.46,286.5 L451.33,285.45 L452.2,284.38 L453.08,283.29 L453.95,282.19 L454.82,281.1 L455.69,280.04 L456.56,279.01 L457.44,277.99 L458.31,276.97 L459.18,275.95 L460.05,274.9 L460.92,273.82 L461.8,272.69 L462.67,271.49 L463.54,270.23 L464.41,268.89 L465.28,267.51 L466.16,266.09 L467.03,264.65 L467.9,263.21 L468.77,261.77 L469.64,260.36 L470.52,258.93 L471.39,257.49 L472.26,256.04 L473.13,254.58 L474,253.13 L474.88,251.69 L475.75,250.26 L476.62,248.85 L477.49,247.45 L478.36,246.05 L479.24,244.66 L480.11,243.28 L480.98,241.92 L481.85,240.58 L482.72,239.27 L483.6,237.99 L484.47,236.73 L485.34,235.5 L486.21,234.27 L487.08,233.05 L487.96,231.83 L488.83,230.59 L489.7,229.33 L490.57,228.08 L491.44,226.82 L492.32,225.56 L493.19,224.29 L494.06,223.01 L494.93,221.7 L495.8,220.38 L496.68,219.04 L497.55,217.68 L498.42,216.31 L499.29,214.93 L500.16,213.52 L501.04,212.11 L501.91,210.68 L502.78,209.23" fill="none" stroke="#7e2f8e" stroke-width="1.3" stroke-linejoin="round" />
<path d="M380.7,308.3 L381.57,308.3 L382.44,308.3 L383.32,308.3 L384.19,308.3 L385.06,308.3 L385.93,308.3 L386.8,308.3 L387.68,308.3 L388.55,308.3 L389.42,308.3 L390.29,308.3 L391.16,308.3 L392.04,308.3 L392.91,308.3 L393.78,308.3 L394.65,308.3 L395.52,308.3 L396.4,308.3 L397.27,308.3 L398.14,308.3 L399.01,308.3 L399.88,308.3 L400.76,308.3 L401.63,308.3 L402.5,308.3 L403.37,308.3 L404.24,308.3 L405.12,308.3 L405.99,308.3 L406.86,308.3 L407.73,308.3 L408.6,308.3 L409.48,308.3 L410.35,308.3 L411.22,308.3 L412.09,308.3 L412.96,308.3 L413.84,308.3 L414.71,308.3 L415.58,308.3 L416.45,308.3 L417.32,308.3 L418.2,308.3 L419.07,308.3 L419.94,308.3 L420.81,308.3 L421.68,308.3 L422.56,308.3 L423.43,308.3 L424.3,308.3 L425.17,308.3 L426.04,308.3 L426.92,308.3 L427.79,308.3 L428.66,308.3 L429.53,308.3 L430.4,308.3 L431.28,308.3 L432.15,308.3 L433.02,308.3 L433.89,308.3 L434.76,308.3 L435.64,308.3 L436.51,308.3 L437.38,308.3 L438.25,308.3 L439.12,308.3 L440,308.3 L440.87,308.3 L441.74,308.3 L442.61,308.3 L443.48,308.3 L444.36,308.3 L445.23,308.3 L446.1,308.3 L446.97,308.3 L447.84,308.3 L448.72,308.3 L449.59,308.3 L450.46,308.3 L451.33,308.3 L452.2,308.3 L453.08,308.3 L453.95,308.3 L454.82,308.3 L455.69,308.3 L456.56,308.3 L457.44,308.3 L458.31,308.3 L459.18,307.24 L460.05,293.65 L460.92,286.17 L461.8,280.93 L462.67,277.98 L463.54,275.39 L464.41,272.74 L465.28,270.18 L466.16,267.6 L467.03,264.99 L467.9,262.46 L468.77,260.1 L469.64,258.01 L470.52,256.12 L471.39,254.35 L472.26,252.69 L473.13,251.1 L474,249.57 L474.88,248.07 L475.75,246.57 L476.62,245.07 L477.49,243.61 L478.36,242.17 L479.24,240.76 L480.11,239.38 L480.98,238.03 L481.85,236.7 L482.72,235.4 L483.6,234.14 L484.47,232.92 L485.34,231.72 L486.21,230.54 L487.08,229.36 L487.96,228.18 L488.83,226.98 L489.7,225.76 L490.57,224.55 L491.44,223.34 L492.32,222.13 L493.19,220.9 L494.06,219.65 L494.93,218.37 L495.8,217.05 L496.68,215.71 L497.55,214.33 L498.42,212.93 L499.29,211.51 L500.16,210.05 L501.04,208.57 L501.91,207.07 L502.78,205.54" fill="none" stroke="#0072bd" stroke-width="1.3" stroke-linejoin="round" />
<path d="M380.7,308.3 L381.57,308.3 L382.44,308.3 L383.32,308.3 L384.19,308.3 L385.06,308.3 L385.93,308.3 L386.8,308.3 L387.68,308.3 L388.55,308.3 L389.42,308.3 L390.29,308.3 L391.16,308.3 L392.04,308.3 L392.91,308.3 L393.78,308.3 L394.65,308.3 L395.52,308.3 L396.4,308.3 L397.27,308.3 L398.14,308.3 L399.01,308.3 L399.88,308.3 L400.76,308.3 L401.63,308.3 L402.5,308.3 L403.37,308.3 L404.24,308.3 L405.12,308.3 L405.99,308.3 L406.86,308.3 L407.73,308.3 L408.6,308.3 L409.48,308.3 L410.35,308.3 L411.22,308.3 L412.09,308.3 L412.96,308.3 L413.84,308.3 L414.71,308.3 L415.58,308.3 L416.45,308.3 L417.32,308.3 L418.2,308.3 L419.07,308.3 L419.94,308.3 L420.81,308.3 L421.68,308.3 L422.56,308.3 L423.43,308.3 L424.3,308.3 L425.17,308.3 L426.04,308.3 L426.92,308.3 L427.79,308.3 L428.66,308.3 L429.53,308.3 L430.4,308.3 L431.28,308.3 L432.15,308.3 L433.02,308.3 L433.89,308.3 L434.76,308.3 L435.64,308.3 L436.51,308.3 L437.38,308.3 L438.25,308.3 L439.12,308.3 L440,308.3 L440.87,308.3 L441.74,308.3 L442.61,308.3 L443.48,308.3 L444.36,308.26 L445.23,308.18 L446.1,308.07 L446.97,307.9 L447.84,307.67 L448.72,307.4 L449.59,307.09 L450.46,306.73 L451.33,306.28 L452.2,305.73 L453.08,305.02 L453.95,303.98 L454.82,302.61 L455.69,300.99 L456.56,299.17 L457.44,297.11 L458.31,294.4 L459.18,291.29 L460.05,288.07 L460.92,285.04 L461.8,282.31 L462.67,279.68 L463.54,277.1 L464.41,274.54 L465.28,271.98 L466.16,269.34 L467.03,266.63 L467.9,263.99 L468.77,261.52 L469.64,259.34 L470.52,257.38 L471.39,255.54 L472.26,253.81 L473.13,252.16 L474,250.57 L474.88,249.02 L475.75,247.48 L476.62,245.94 L477.49,244.44 L478.36,242.98 L479.24,241.55 L480.11,240.15 L480.98,238.78 L481.85,237.44 L482.72,236.12 L483.6,234.84 L484.47,233.6 L485.34,232.38 L486.21,231.19 L487.08,230 L487.96,228.81 L488.83,227.61 L489.7,226.39 L490.57,225.19 L491.44,224 L492.32,222.8 L493.19,221.6 L494.06,220.36 L494.93,219.09 L495.8,217.77 L496.68,216.41 L497.55,215.02 L498.42,213.6 L499.29,212.14 L500.16,210.65 L501.04,209.13 L501.91,207.58 L502.78,205.99" fill="none" stroke="#d95319" stroke-width="1.3" stroke-linejoin="round" />
<path d="M380.7,308.3 L381.57,308.3 L382.44,308.3 L383.32,308.3 L384.19,308.3 L385.06,308.3 L385.93,308.3 L386.8,308.3 L387.68,308.3 L388.55,308.3 L389.42,308.3 L390.29,308.3 L391.16,308.3 L392.04,308.3 L392.91,308.3 L393.78,308.3 L394.65,308.3 L395.52,308.3 L396.4,308.3 L397.27,308.3 L398.14,308.3 L399.01,308.3 L399.88,308.3 L400.76,308.3 L401.63,308.3 L402.5,308.3 L403.37,308.3 L404.24,308.3 L405.12,308.3 L405.99,308.3 L406.86,308.3 L407.73,308.3 L408.6,308.3 L409.48,308.3 L410.35,308.3 L411.22,308.3 L412.09,308.3 L412.96,308.3 L413.84,308.3 L414.71,308.3 L415.58,308.3 L416.45,308.29 L417.32,308.27 L418.2,308.24 L419.07,308.21 L419.94,308.16 L420.81,308.12 L421.68,308.07 L422.56,308.01 L423.43,307.93 L424.3,307.85 L425.17,307.75 L426.04,307.65 L426.92,307.53 L427.79,307.4 L428.66,307.25 L429.53,307.06 L430.4,306.84 L431.28,306.58 L432.15,306.3 L433.02,306 L433.89,305.68 L434.76,305.33 L435.64,304.95 L436.51,304.52 L437.38,304.03 L438.25,303.5 L439.12,302.92 L440,302.3 L440.87,301.65 L441.74,300.97 L442.61,300.21 L443.48,299.38 L444.36,298.47 L445.23,297.5 L446.1,296.48 L446.97,295.42 L447.84,294.34 L448.72,293.25 L449.59,292.1 L450.46,290.89 L451.33,289.63 L452.2,288.33 L453.08,286.99 L453.95,285.62 L454.82,284.24 L455.69,282.85 L456.56,281.42 L457.44,279.94 L458.31,278.43 L459.18,276.89 L460.05,275.34 L460.92,273.8 L461.8,272.26 L462.67,270.74 L463.54,269.2 L464.41,267.64 L465.28,266.11 L466.16,264.64 L467.03,263.27 L467.9,262.03 L468.77,260.81 L469.64,259.47 L470.52,257.97 L471.39,256.35 L472.26,254.66 L473.13,252.93 L474,251.21 L474.88,249.52 L475.75,247.92 L476.62,246.41 L477.49,244.92 L478.36,243.46 L479.24,242.02 L480.11,240.62 L480.98,239.24 L481.85,237.89 L482.72,236.57 L483.6,235.29 L484.47,234.04 L485.34,232.82 L486.21,231.63 L487.08,230.44 L487.96,229.25 L488.83,228.05 L489.7,226.85 L490.57,225.67 L491.44,224.5 L492.32,223.33 L493.19,222.15 L494.06,220.95 L494.93,219.7 L495.8,218.41 L496.68,217.06 L497.55,215.69 L498.42,214.28 L499.29,212.83 L500.16,211.35 L501.04,209.84 L501.91,208.29 L502.78,206.71" fill="none" stroke="#edb120" stroke-width="1.3" stroke-linejoin="round" />
</g>
<rect x="380.7" y="203.3" width="122.2" height="105.2" fill="none" stroke="#555" stroke-width="1.2"/>
<line x1="380.7" y1="308.5" x2="380.7" y2="306" stroke="#555" stroke-width="0.8"/>
<line x1="380.7" y1="203.3" x2="380.7" y2="205.8" stroke="#555" stroke-width="0.8"/>
<line x1="398.14" y1="308.5" x2="398.14" y2="306" stroke="#555" stroke-width="0.8"/>
<line x1="398.14" y1="203.3" x2="398.14" y2="205.8" stroke="#555" stroke-width="0.8"/>
<line x1="415.58" y1="308.5" x2="415.58" y2="306" stroke="#555" stroke-width="0.8"/>
<line x1="415.58" y1="203.3" x2="415.58" y2="205.8" stroke="#555" stroke-width="0.8"/>
<line x1="433.02" y1="308.5" x2="433.02" y2="306" stroke="#555" stroke-width="0.8"/>
<line x1="433.02" y1="203.3" x2="433.02" y2="205.8" stroke="#555" stroke-width="0.8"/>
<line x1="450.46" y1="308.5" x2="450.46" y2="306" stroke="#555" stroke-width="0.8"/>
<line x1="450.46" y1="203.3" x2="450.46" y2="205.8" stroke="#555" stroke-width="0.8"/>
<line x1="467.9" y1="308.5" x2="467.9" y2="306" stroke="#555" stroke-width="0.8"/>
<line x1="467.9" y1="203.3" x2="467.9" y2="205.8" stroke="#555" stroke-width="0.8"/>
<line x1="485.34" y1="308.5" x2="485.34" y2="306" stroke="#555" stroke-width="0.8"/>
<line x1="485.34" y1="203.3" x2="485.34" y2="205.8" stroke="#555" stroke-width="0.8"/>
<line x1="502.78" y1="308.5" x2="502.78" y2="306" stroke="#555" stroke-width="0.8"/>
<line x1="502.78" y1="203.3" x2="502.78" y2="205.8" stroke="#555" stroke-width="0.8"/>
<line x1="380.7" y1="308.3" x2="383.2" y2="308.3" stroke="#555" stroke-width="0.8"/>
<line x1="502.9" y1="308.3" x2="500.4" y2="308.3" stroke="#555" stroke-width="0.8"/>
<line x1="380.7" y1="290.32" x2="383.2" y2="290.32" stroke="#555" stroke-width="0.8"/>
<line x1="502.9" y1="290.32" x2="500.4" y2="290.32" stroke="#555" stroke-width="0.8"/>
<line x1="380.7" y1="272.34" x2="383.2" y2="272.34" stroke="#555" stroke-width="0.8"/>
<line x1="502.9" y1="272.34" x2="500.4" y2="272.34" stroke="#555" stroke-width="0.8"/>
<line x1="380.7" y1="254.36" x2="383.2" y2="254.36" stroke="#555" stroke-width="0.8"/>
<line x1="502.9" y1="254.36" x2="500.4" y2="254.36" stroke="#555" stroke-width="0.8"/>
<line x1="380.7" y1="236.38" x2="383.2" y2="236.38" stroke="#555" stroke-width="0.8"/>
<line x1="502.9" y1="236.38" x2="500.4" y2="236.38" stroke="#555" stroke-width="0.8"/>
<line x1="380.7" y1="218.4" x2="383.2" y2="218.4" stroke="#555" stroke-width="0.8"/>
<line x1="502.9" y1="218.4" x2="500.4" y2="218.4" stroke="#555" stroke-width="0.8"/>
<text x="377.3" y="312.1" font-size="10.6" text-anchor="end" fill="#222" font-weight="normal" font-style="normal" >0</text>
<text x="377.3" y="294.12" font-size="10.6" text-anchor="end" fill="#222" font-weight="normal" font-style="normal" >0.2</text>
<text x="377.3" y="258.16" font-size="10.6" text-anchor="end" fill="#222" font-weight="normal" font-style="normal" >0.6</text>
<text x="377.3" y="222.2" font-size="10.6" text-anchor="end" fill="#222" font-weight="normal" font-style="normal" >1</text>
<text x="383.8" y="318.8" font-size="10.6" text-anchor="middle" fill="#222" font-weight="normal" font-style="normal" >1.5</text>
<text x="416.3" y="318.8" font-size="10.6" text-anchor="middle" fill="#222" font-weight="normal" font-style="normal" >1.7</text>
<text x="451.7" y="318.8" font-size="10.6" text-anchor="middle" fill="#222" font-weight="normal" font-style="normal" >1.9</text>
<text x="485.9" y="318.8" font-size="10.6" text-anchor="middle" fill="#222" font-weight="normal" font-style="normal" >2.1</text>
<text x="440" y="333.5" font-size="11" text-anchor="middle" fill="#222" font-weight="normal" font-style="normal" >&#295;&#969; [eV]</text>
<text x="356.8" y="254.3" font-size="11.3" text-anchor="middle" fill="#222" font-weight="normal" font-style="normal" transform="rotate(-90 356.8 254.3)" >JDOS<tspan font-size="7.5" dy="3">X</tspan><tspan dy="-3">[a.u.]</tspan></text>
<line x1="393.9" y1="216.4" x2="402.7" y2="216.4" stroke="#0072bd" stroke-width="1.4"/>
<text x="406.6" y="219.5" font-size="8.6" text-anchor="start" fill="#222" font-weight="normal" font-style="normal" >0 K</text>
<line x1="393.9" y1="225.67" x2="402.7" y2="225.67" stroke="#d95319" stroke-width="1.4"/>
<text x="406.6" y="228.77" font-size="8.6" text-anchor="start" fill="#222" font-weight="normal" font-style="normal" >295 K</text>
<line x1="393.9" y1="234.94" x2="402.7" y2="234.94" stroke="#edb120" stroke-width="1.4"/>
<text x="406.6" y="238.04" font-size="8.6" text-anchor="start" fill="#222" font-weight="normal" font-style="normal" >600 K</text>
<line x1="393.9" y1="244.21" x2="402.7" y2="244.21" stroke="#7e2f8e" stroke-width="1.4"/>
<text x="406.6" y="247.31" font-size="8.6" text-anchor="start" fill="#222" font-weight="normal" font-style="normal" >1000 K</text>
<g clip-path="url(#clipD2)">
<path d="M552.5,309 L553.89,309 L555.28,309 L556.67,309 L558.06,309 L559.45,309 L560.84,309 L562.23,309 L563.62,309 L565.01,309 L566.4,309 L567.79,309 L569.18,309 L570.57,309 L571.96,308.96 L573.35,308.89 L574.74,308.82 L576.13,308.74 L577.52,308.65 L578.91,308.56 L580.3,308.46 L581.69,308.35 L583.08,308.23 L584.47,308.1 L585.86,307.96 L587.25,307.8 L588.64,307.63 L590.03,307.45 L591.42,307.25 L592.81,307.04 L594.2,306.8 L595.59,306.55 L596.98,306.27 L598.37,305.97 L599.76,305.64 L601.15,305.29 L602.54,304.9 L603.93,304.48 L605.32,304.02 L606.71,303.53 L608.1,302.99 L609.49,302.4 L610.88,301.77 L612.27,301.09 L613.66,300.34 L615.04,299.54 L616.43,298.67 L617.82,297.74 L619.21,296.73 L620.6,295.64 L621.99,294.48 L623.38,293.23 L624.77,291.9 L626.16,290.48 L627.55,288.98 L628.94,287.4 L630.33,285.74 L631.72,284 L633.11,282.2 L634.5,280.34 L635.89,278.44 L637.28,276.49 L638.67,274.52 L640.06,272.54 L641.45,270.55 L642.84,268.57 L644.23,266.61 L645.62,264.67 L647.01,262.76 L648.4,260.89 L649.79,259.05 L651.18,257.26 L652.57,255.51 L653.96,253.8 L655.35,252.14 L656.74,250.52 L658.13,248.94 L659.52,247.4 L660.91,245.91 L662.3,244.45 L663.69,243.02 L665.08,241.63 L666.47,240.27 L667.86,238.95 L669.25,237.65 L670.64,236.39 L672.03,235.15 L673.42,233.94 L674.81,232.75 L676.2,231.58" fill="none" stroke="#77ac30" stroke-width="1.3" stroke-linejoin="round" />
<path d="M552.5,309 L553.89,309 L555.28,309 L556.67,309 L558.06,309 L559.45,309 L560.84,309 L562.23,309 L563.62,309 L565.01,309 L566.4,309 L567.79,309 L569.18,308.91 L570.57,308.8 L571.96,308.68 L573.35,308.54 L574.74,308.39 L576.13,308.24 L577.52,308.07 L578.91,307.88 L580.3,307.68 L581.69,307.47 L583.08,307.23 L584.47,306.98 L585.86,306.7 L587.25,306.41 L588.64,306.09 L590.03,305.74 L591.42,305.36 L592.81,304.96 L594.2,304.52 L595.59,304.04 L596.98,303.53 L598.37,302.98 L599.76,302.38 L601.15,301.73 L602.54,301.03 L603.93,300.28 L605.32,299.47 L606.71,298.6 L608.1,297.66 L609.49,296.65 L610.88,295.57 L612.27,294.41 L613.66,293.16 L615.04,291.84 L616.43,290.43 L617.82,288.93 L619.21,287.34 L620.6,285.66 L621.99,283.9 L623.38,282.05 L624.77,280.12 L626.16,278.12 L627.55,276.06 L628.94,273.94 L630.33,271.77 L631.72,269.56 L633.11,267.33 L634.5,265.08 L635.89,262.83 L637.28,260.58 L638.67,258.35 L640.06,256.13 L641.45,253.94 L642.84,251.79 L644.23,249.66 L645.62,247.58 L647.01,245.54 L648.4,243.54 L649.79,241.58 L651.18,239.67 L652.57,237.79 L653.96,235.96 L655.35,234.17 L656.74,232.42 L658.13,230.71 L659.52,229.04 L660.91,227.4 L662.3,225.79 L663.69,224.22 L665.08,222.68 L666.47,221.17 L667.86,219.69 L669.25,218.24 L670.64,216.81 L672.03,215.41 L673.42,214.04 L674.81,212.68 L676.2,211.35" fill="none" stroke="#7e2f8e" stroke-width="1.3" stroke-linejoin="round" />
</g>
<rect x="552.8" y="204.2" width="123.4" height="105.4" fill="none" stroke="#555" stroke-width="1.2"/>
<line x1="552.5" y1="309.5" x2="552.5" y2="307" stroke="#555" stroke-width="0.8"/>
<line x1="552.5" y1="204.2" x2="552.5" y2="206.7" stroke="#555" stroke-width="0.8"/>
<line x1="570.17" y1="309.5" x2="570.17" y2="307" stroke="#555" stroke-width="0.8"/>
<line x1="570.17" y1="204.2" x2="570.17" y2="206.7" stroke="#555" stroke-width="0.8"/>
<line x1="587.84" y1="309.5" x2="587.84" y2="307" stroke="#555" stroke-width="0.8"/>
<line x1="587.84" y1="204.2" x2="587.84" y2="206.7" stroke="#555" stroke-width="0.8"/>
<line x1="605.51" y1="309.5" x2="605.51" y2="307" stroke="#555" stroke-width="0.8"/>
<line x1="605.51" y1="204.2" x2="605.51" y2="206.7" stroke="#555" stroke-width="0.8"/>
<line x1="623.18" y1="309.5" x2="623.18" y2="307" stroke="#555" stroke-width="0.8"/>
<line x1="623.18" y1="204.2" x2="623.18" y2="206.7" stroke="#555" stroke-width="0.8"/>
<line x1="640.85" y1="309.5" x2="640.85" y2="307" stroke="#555" stroke-width="0.8"/>
<line x1="640.85" y1="204.2" x2="640.85" y2="206.7" stroke="#555" stroke-width="0.8"/>
<line x1="658.52" y1="309.5" x2="658.52" y2="307" stroke="#555" stroke-width="0.8"/>
<line x1="658.52" y1="204.2" x2="658.52" y2="206.7" stroke="#555" stroke-width="0.8"/>
<line x1="676.19" y1="309.5" x2="676.19" y2="307" stroke="#555" stroke-width="0.8"/>
<line x1="676.19" y1="204.2" x2="676.19" y2="206.7" stroke="#555" stroke-width="0.8"/>
<line x1="552.8" y1="274.4" x2="555.3" y2="274.4" stroke="#555" stroke-width="0.8"/>
<line x1="676.2" y1="274.4" x2="673.7" y2="274.4" stroke="#555" stroke-width="0.8"/>
<line x1="552.8" y1="239.2" x2="555.3" y2="239.2" stroke="#555" stroke-width="0.8"/>
<line x1="676.2" y1="239.2" x2="673.7" y2="239.2" stroke="#555" stroke-width="0.8"/>
<text x="550" y="311.4" font-size="10.6" text-anchor="end" fill="#222" font-weight="normal" font-style="normal" >0</text>
<text x="550" y="278.4" font-size="10.6" text-anchor="end" fill="#222" font-weight="normal" font-style="normal" >0.5</text>
<text x="550" y="242.9" font-size="10.6" text-anchor="end" fill="#222" font-weight="normal" font-style="normal" >1</text>
<text x="550" y="208.8" font-size="10.6" text-anchor="end" fill="#222" font-weight="normal" font-style="normal" >1.5</text>
<text x="555.5" y="319.2" font-size="10.6" text-anchor="middle" fill="#222" font-weight="normal" font-style="normal" >1.5</text>
<text x="590.7" y="319.2" font-size="10.6" text-anchor="middle" fill="#222" font-weight="normal" font-style="normal" >1.7</text>
<text x="626.3" y="319.2" font-size="10.6" text-anchor="middle" fill="#222" font-weight="normal" font-style="normal" >1.9</text>
<text x="660" y="319.2" font-size="10.6" text-anchor="middle" fill="#222" font-weight="normal" font-style="normal" >2.1</text>
<text x="621.7" y="333.5" font-size="11" text-anchor="middle" fill="#222" font-weight="normal" font-style="normal" >&#295;&#969; [eV]</text>
<text x="533.5" y="257.8" font-size="11.3" text-anchor="middle" fill="#222" font-weight="normal" font-style="normal" transform="rotate(-90 533.5 257.8)" >JDOS<tspan font-size="7.5" dy="3">X</tspan><tspan dy="-3">[a.u.]</tspan></text>
<line x1="565.9" y1="222.4" x2="577" y2="222.4" stroke="#77ac30" stroke-width="1.4"/>
<line x1="565.9" y1="235.5" x2="577" y2="235.5" stroke="#7e2f8e" stroke-width="1.4"/>
<text x="579.3" y="225.7" font-size="7.9" text-anchor="start" fill="#222" font-weight="normal" font-style="normal" >PC JDOS<tspan font-size="5.7" dy="2.8">X</tspan></text>
<text x="579.3" y="238.6" font-size="7.9" text-anchor="start" fill="#222" font-weight="normal" font-style="normal" >MC JDOS<tspan font-size="5.7" dy="2.8">X</tspan></text>
<text x="347.2" y="347.6" font-size="13.8" text-anchor="start" fill="#1a1a1a" font-weight="bold" font-style="normal" >e</text>
<g clip-path="url(#clipE)">
<path d="M381.5,351.78 C381.77,351.79 382.57,351.76 383.1,351.84 C383.63,351.92 384.17,352.29 384.7,352.26 C385.23,352.23 385.77,351.63 386.3,351.64 C386.83,351.65 387.37,352.32 387.9,352.32 C388.43,352.32 388.97,351.67 389.5,351.65 C390.03,351.62 390.57,352.07 391.1,352.17 C391.63,352.26 392.17,352.13 392.7,352.22 C393.23,352.31 393.77,352.64 394.3,352.7 C394.83,352.76 395.37,352.55 395.9,352.57 C396.43,352.6 396.97,352.63 397.5,352.87 C398.03,353.11 398.57,353.57 399.1,354 C399.63,354.42 400.17,355.14 400.7,355.41 C401.23,355.68 401.77,355.52 402.3,355.63 C402.83,355.74 403.37,356.28 403.9,356.07 C404.43,355.86 404.97,354.78 405.5,354.37 C406.03,353.95 406.57,353.65 407.1,353.56 C407.63,353.47 408.17,353.71 408.7,353.81 C409.23,353.9 409.77,353.91 410.3,354.12 C410.83,354.34 411.37,354.9 411.9,355.1 C412.43,355.3 412.97,355.2 413.5,355.31 C414.03,355.42 414.57,355.59 415.1,355.75 C415.63,355.92 416.17,356.23 416.7,356.31 C417.23,356.4 417.77,356.17 418.3,356.25 C418.83,356.34 419.37,356.55 419.9,356.81 C420.43,357.07 420.97,357.52 421.5,357.82 C422.03,358.12 422.57,358.35 423.1,358.6 C423.63,358.85 424.17,359.14 424.7,359.32 C425.23,359.51 425.77,359.37 426.3,359.71 C426.83,360.05 427.37,360.83 427.9,361.37 C428.43,361.91 428.97,362.49 429.5,362.95 C430.03,363.42 430.57,363.55 431.1,364.15 C431.63,364.76 432.17,365.64 432.7,366.58 C433.23,367.53 433.77,368.26 434.3,369.82 C434.83,371.37 435.37,373.43 435.9,375.9 C436.43,378.37 436.97,380.69 437.5,384.65 C438.03,388.61 438.57,394.37 439.1,399.66 C439.63,404.95 440.17,411.77 440.7,416.4 C441.23,421.02 441.77,424.01 442.3,427.41 C442.83,430.81 443.37,433.65 443.9,436.8 C444.43,439.96 444.97,442.86 445.5,446.32 C446.03,449.78 446.57,455.55 447.1,457.57 C447.63,459.58 448.17,457.99 448.7,458.42 C449.23,458.86 449.77,459.74 450.3,460.16 C450.83,460.57 451.37,460.7 451.9,460.93 C452.43,461.16 452.97,461.23 453.5,461.54 C454.03,461.84 454.57,462.39 455.1,462.75 C455.63,463.1 456.17,463.24 456.7,463.66 C457.23,464.08 457.77,464.9 458.3,465.27 C458.83,465.63 459.37,465.5 459.9,465.84 C460.43,466.18 460.97,466.82 461.5,467.31 C462.03,467.8 462.57,468.36 463.1,468.78 C463.63,469.21 464.17,469.5 464.7,469.87 C465.23,470.25 465.77,470.73 466.3,471.02 C466.83,471.32 467.37,471.25 467.9,471.64 C468.43,472.04 468.97,472.93 469.5,473.39 C470.03,473.85 470.57,473.95 471.1,474.4 C471.63,474.86 472.17,475.7 472.7,476.12 C473.23,476.54 473.77,476.48 474.3,476.93 C474.83,477.37 475.37,478.33 475.9,478.8 C476.43,479.26 476.97,479.32 477.5,479.7 C478.03,480.08 478.57,480.72 479.1,481.08 C479.63,481.44 480.17,481.66 480.7,481.87 C481.23,482.08 481.77,482.19 482.3,482.35 C482.83,482.51 483.37,482.6 483.9,482.83 C484.43,483.06 484.97,483.57 485.5,483.73 C486.03,483.89 486.57,483.67 487.1,483.78 C487.63,483.88 488.17,484.11 488.7,484.36 C489.23,484.6 489.77,485.03 490.3,485.22 C490.83,485.41 491.37,485.42 491.9,485.5 C492.43,485.59 492.97,485.6 493.5,485.75 C494.03,485.89 494.57,486.28 495.1,486.39 C495.63,486.49 496.17,486.29 496.7,486.35 C497.23,486.42 497.77,486.55 498.3,486.8 C498.83,487.05 499.37,487.49 499.9,487.86 C500.43,488.23 500.97,488.81 501.5,489.03 C502.03,489.25 502.57,489.1 503.1,489.19 C503.63,489.28 504.17,489.57 504.7,489.57 C505.23,489.58 505.77,489.29 506.3,489.22 C506.83,489.14 507.37,489.02 507.9,489.12 C508.43,489.22 508.97,489.79 509.5,489.83 C510.03,489.87 510.57,489.5 511.1,489.38 C511.63,489.26 512.17,488.95 512.7,489.11 C513.23,489.27 513.77,490.07 514.3,490.33 C514.83,490.58 515.37,490.6 515.9,490.65 C516.43,490.7 516.97,490.58 517.5,490.63 C518.03,490.68 518.57,490.93 519.1,490.96 C519.63,490.98 520.17,490.83 520.7,490.8 C521.23,490.76 521.77,490.81 522.3,490.74 C522.83,490.68 523.37,490.4 523.9,490.4 C524.43,490.4 524.97,490.73 525.5,490.75 C526.03,490.77 526.57,490.5 527.1,490.51 C527.63,490.52 528.17,490.65 528.7,490.83 C529.23,491 529.77,491.53 530.3,491.56 C530.83,491.59 531.37,491.08 531.9,490.99 C532.43,490.89 532.97,491.04 533.5,490.97 C534.03,490.91 534.57,490.5 535.1,490.59 C535.63,490.68 536.17,491.6 536.7,491.51 C537.23,491.43 537.77,490.27 538.3,490.07 C538.83,489.88 539.37,490.2 539.9,490.33 C540.43,490.45 540.97,490.84 541.5,490.82 C542.03,490.81 542.57,490.36 543.1,490.25 C543.63,490.14 544.17,490.13 544.7,490.17 C545.23,490.22 545.77,490.44 546.3,490.5 C546.83,490.56 547.37,490.52 547.9,490.51 C548.43,490.5 548.97,490.53 549.5,490.42 C550.03,490.31 550.57,489.89 551.1,489.85 C551.63,489.81 552.17,490.26 552.7,490.2 C553.23,490.13 553.77,489.6 554.3,489.47 C554.83,489.34 555.37,489.46 555.9,489.42 C556.43,489.39 556.97,489.25 557.5,489.26 C558.03,489.28 558.57,489.54 559.1,489.52 C559.63,489.51 560.17,489.29 560.7,489.18 C561.23,489.08 561.77,488.9 562.3,488.87 C562.83,488.84 563.37,489.08 563.9,489.03 C564.43,488.98 564.97,488.65 565.5,488.58 C566.03,488.5 566.57,488.6 567.1,488.6 C567.63,488.59 568.17,488.57 568.7,488.52 C569.23,488.47 569.77,488.38 570.3,488.29 C570.83,488.2 571.37,488.06 571.9,487.96 C572.43,487.86 572.97,487.65 573.5,487.69 C574.03,487.73 574.57,488.3 575.1,488.19 C575.63,488.08 576.17,487.15 576.7,487.04 C577.23,486.94 577.77,487.56 578.3,487.55 C578.83,487.55 579.37,487.14 579.9,487.02 C580.43,486.9 580.97,486.97 581.5,486.85 C582.03,486.73 582.57,486.36 583.1,486.33 C583.63,486.29 584.17,486.66 584.7,486.65 C585.23,486.65 585.77,486.31 586.3,486.3 C586.83,486.28 587.37,486.65 587.9,486.58 C588.43,486.51 588.97,486.07 589.5,485.89 C590.03,485.71 590.57,485.62 591.1,485.51 C591.63,485.41 592.17,485.22 592.7,485.25 C593.23,485.27 593.77,485.65 594.3,485.66 C594.83,485.67 595.37,485.46 595.9,485.31 C596.43,485.17 596.97,484.83 597.5,484.8 C598.03,484.78 598.57,485.22 599.1,485.17 C599.63,485.13 600.17,484.7 600.7,484.52 C601.23,484.35 601.77,484.19 602.3,484.12 C602.83,484.06 603.37,484.25 603.9,484.13 C604.43,484.02 604.97,483.51 605.5,483.42 C606.03,483.32 606.57,483.62 607.1,483.54 C607.63,483.46 608.17,482.99 608.7,482.94 C609.23,482.89 609.77,483.21 610.3,483.22 C610.83,483.23 611.37,483.12 611.9,483 C612.43,482.89 612.97,482.6 613.5,482.55 C614.03,482.49 614.57,482.78 615.1,482.67 C615.63,482.56 616.17,482.01 616.7,481.91 C617.23,481.8 617.77,482.1 618.3,482.06 C618.83,482.02 619.37,481.82 619.9,481.66 C620.43,481.51 620.97,481.18 621.5,481.16 C622.03,481.13 622.57,481.43 623.1,481.51 C623.63,481.59 624.17,481.56 624.7,481.61 C625.23,481.67 625.77,481.98 626.3,481.83 C626.83,481.69 627.37,480.93 627.9,480.73 C628.43,480.54 628.97,480.64 629.5,480.65 C630.03,480.67 630.57,480.96 631.1,480.82 C631.63,480.68 632.17,479.87 632.7,479.79 C633.23,479.72 633.77,480.46 634.3,480.36 C634.83,480.27 635.37,479.41 635.9,479.21 C636.43,479.01 636.97,479.16 637.5,479.16 C638.03,479.17 638.57,479.27 639.1,479.24 C639.63,479.22 640.17,479 640.7,478.99 C641.23,478.98 641.77,479.29 642.3,479.18 C642.83,479.07 643.37,478.48 643.9,478.35 C644.43,478.23 644.97,478.46 645.5,478.42 C646.03,478.38 646.57,478.19 647.1,478.14 C647.63,478.08 648.17,478.1 648.7,478.07 C649.23,478.05 649.77,478.03 650.3,477.99 C650.83,477.96 651.37,477.96 651.9,477.87 C652.43,477.79 652.97,477.57 653.5,477.47 C654.03,477.37 654.57,477.36 655.1,477.28 C655.63,477.19 656.17,477.13 656.7,476.96 C657.23,476.79 657.77,476.43 658.3,476.26 C658.83,476.1 659.37,475.95 659.9,475.97 C660.43,475.98 660.97,476.43 661.5,476.37 C662.03,476.31 662.57,475.74 663.1,475.6 C663.63,475.46 664.17,475.53 664.7,475.53 C665.23,475.53 665.77,475.64 666.3,475.58 C666.83,475.52 667.37,475.29 667.9,475.16 C668.43,475.03 668.97,474.89 669.5,474.78 C670.03,474.67 670.57,474.54 671.1,474.49 C671.63,474.45 672.17,474.49 672.7,474.53 C673.23,474.56 673.77,474.88 674.3,474.71 C674.83,474.54 675.63,473.71 675.9,473.51" fill="none" stroke="#808080" stroke-width="0.9" stroke-dasharray="2.2,1.2" stroke-linejoin="round" />
<path d="M381.5,351.58 C381.77,351.55 382.57,351.32 383.1,351.38 C383.63,351.44 384.17,351.9 384.7,351.96 C385.23,352.03 385.77,351.8 386.3,351.77 C386.83,351.75 387.37,351.8 387.9,351.8 C388.43,351.8 388.97,351.69 389.5,351.76 C390.03,351.83 390.57,352.19 391.1,352.21 C391.63,352.23 392.17,351.86 392.7,351.87 C393.23,351.88 393.77,352.23 394.3,352.28 C394.83,352.34 395.37,352.14 395.9,352.19 C396.43,352.24 396.97,352.49 397.5,352.59 C398.03,352.7 398.57,352.71 399.1,352.82 C399.63,352.93 400.17,353.16 400.7,353.26 C401.23,353.37 401.77,353.47 402.3,353.47 C402.83,353.47 403.37,353.19 403.9,353.25 C404.43,353.31 404.97,353.71 405.5,353.82 C406.03,353.93 406.57,353.82 407.1,353.9 C407.63,353.98 408.17,354.15 408.7,354.3 C409.23,354.45 409.77,354.76 410.3,354.81 C410.83,354.87 411.37,354.48 411.9,354.63 C412.43,354.78 412.97,355.58 413.5,355.72 C414.03,355.86 414.57,355.39 415.1,355.45 C415.63,355.51 416.17,355.86 416.7,356.06 C417.23,356.27 417.77,356.48 418.3,356.68 C418.83,356.88 419.37,357.08 419.9,357.25 C420.43,357.41 420.97,357.5 421.5,357.66 C422.03,357.83 422.57,358.03 423.1,358.24 C423.63,358.44 424.17,358.72 424.7,358.9 C425.23,359.08 425.77,359 426.3,359.32 C426.83,359.65 427.37,360.28 427.9,360.83 C428.43,361.38 428.97,362.27 429.5,362.61 C430.03,362.96 430.57,362.25 431.1,362.9 C431.63,363.55 432.17,365.35 432.7,366.5 C433.23,367.65 433.77,368.41 434.3,369.81 C434.83,371.21 435.37,372.73 435.9,374.9 C436.43,377.07 436.97,379.14 437.5,382.83 C438.03,386.52 438.57,392.47 439.1,397.02 C439.63,401.57 440.17,406.59 440.7,410.13 C441.23,413.68 441.77,415.99 442.3,418.28 C442.83,420.58 443.37,421.98 443.9,423.91 C444.43,425.84 444.97,427.99 445.5,429.88 C446.03,431.78 446.57,433.86 447.1,435.27 C447.63,436.68 448.17,437.2 448.7,438.35 C449.23,439.5 449.77,441.1 450.3,442.17 C450.83,443.25 451.37,443.84 451.9,444.81 C452.43,445.79 452.97,447.06 453.5,448.01 C454.03,448.95 454.57,449.55 455.1,450.48 C455.63,451.42 456.17,452.7 456.7,453.61 C457.23,454.53 457.77,455.14 458.3,455.99 C458.83,456.84 459.37,457.86 459.9,458.73 C460.43,459.6 460.97,460.48 461.5,461.22 C462.03,461.96 462.57,462.56 463.1,463.17 C463.63,463.79 464.17,464.25 464.7,464.92 C465.23,465.58 465.77,466.47 466.3,467.17 C466.83,467.87 467.37,468.51 467.9,469.14 C468.43,469.77 468.97,470.45 469.5,470.93 C470.03,471.42 470.57,471.61 471.1,472.06 C471.63,472.5 472.17,473.22 472.7,473.62 C473.23,474.03 473.77,474.08 474.3,474.5 C474.83,474.93 475.37,475.69 475.9,476.17 C476.43,476.65 476.97,477 477.5,477.38 C478.03,477.75 478.57,478.04 479.1,478.41 C479.63,478.78 480.17,479.18 480.7,479.61 C481.23,480.03 481.77,480.78 482.3,480.96 C482.83,481.14 483.37,480.56 483.9,480.69 C484.43,480.82 484.97,481.49 485.5,481.76 C486.03,482.03 486.57,482.09 487.1,482.32 C487.63,482.54 488.17,482.88 488.7,483.12 C489.23,483.35 489.77,483.51 490.3,483.73 C490.83,483.95 491.37,484.25 491.9,484.44 C492.43,484.63 492.97,484.75 493.5,484.88 C494.03,485 494.57,485.11 495.1,485.2 C495.63,485.29 496.17,485.25 496.7,485.4 C497.23,485.55 497.77,485.87 498.3,486.1 C498.83,486.32 499.37,486.55 499.9,486.74 C500.43,486.92 500.97,487.05 501.5,487.21 C502.03,487.37 502.57,487.64 503.1,487.72 C503.63,487.8 504.17,487.69 504.7,487.68 C505.23,487.68 505.77,487.65 506.3,487.71 C506.83,487.78 507.37,487.94 507.9,488.07 C508.43,488.19 508.97,488.34 509.5,488.46 C510.03,488.59 510.57,488.73 511.1,488.84 C511.63,488.94 512.17,489.01 512.7,489.07 C513.23,489.14 513.77,489.24 514.3,489.22 C514.83,489.2 515.37,488.95 515.9,488.96 C516.43,488.97 516.97,489.16 517.5,489.27 C518.03,489.38 518.57,489.54 519.1,489.61 C519.63,489.69 520.17,489.66 520.7,489.72 C521.23,489.77 521.77,489.97 522.3,489.97 C522.83,489.97 523.37,489.66 523.9,489.7 C524.43,489.74 524.97,490.22 525.5,490.21 C526.03,490.21 526.57,489.67 527.1,489.68 C527.63,489.69 528.17,490.14 528.7,490.28 C529.23,490.42 529.77,490.49 530.3,490.52 C530.83,490.55 531.37,490.44 531.9,490.48 C532.43,490.52 532.97,490.74 533.5,490.76 C534.03,490.78 534.57,490.6 535.1,490.58 C535.63,490.57 536.17,490.63 536.7,490.67 C537.23,490.71 537.77,490.86 538.3,490.85 C538.83,490.83 539.37,490.53 539.9,490.57 C540.43,490.61 540.97,491.07 541.5,491.09 C542.03,491.11 542.57,490.71 543.1,490.7 C543.63,490.68 544.17,490.95 544.7,490.99 C545.23,491.03 545.77,490.97 546.3,490.95 C546.83,490.93 547.37,490.85 547.9,490.86 C548.43,490.87 548.97,490.98 549.5,491.01 C550.03,491.04 550.57,491.07 551.1,491.04 C551.63,491.01 552.17,490.8 552.7,490.85 C553.23,490.9 553.77,491.38 554.3,491.35 C554.83,491.33 555.37,490.76 555.9,490.68 C556.43,490.6 556.97,490.79 557.5,490.85 C558.03,490.91 558.57,491.04 559.1,491.04 C559.63,491.05 560.17,490.9 560.7,490.89 C561.23,490.88 561.77,491.05 562.3,490.97 C562.83,490.89 563.37,490.47 563.9,490.42 C564.43,490.36 564.97,490.6 565.5,490.64 C566.03,490.68 566.57,490.63 567.1,490.67 C567.63,490.7 568.17,490.92 568.7,490.88 C569.23,490.84 569.77,490.48 570.3,490.42 C570.83,490.35 571.37,490.42 571.9,490.48 C572.43,490.55 572.97,490.8 573.5,490.78 C574.03,490.77 574.57,490.47 575.1,490.4 C575.63,490.32 576.17,490.36 576.7,490.32 C577.23,490.27 577.77,490.13 578.3,490.13 C578.83,490.13 579.37,490.38 579.9,490.29 C580.43,490.2 580.97,489.69 581.5,489.59 C582.03,489.5 582.57,489.7 583.1,489.72 C583.63,489.73 584.17,489.68 584.7,489.68 C585.23,489.68 585.77,489.74 586.3,489.73 C586.83,489.72 587.37,489.72 587.9,489.62 C588.43,489.51 588.97,489.13 589.5,489.1 C590.03,489.07 590.57,489.42 591.1,489.41 C591.63,489.41 592.17,489.03 592.7,489.06 C593.23,489.1 593.77,489.68 594.3,489.64 C594.83,489.61 595.37,488.98 595.9,488.87 C596.43,488.76 596.97,489.04 597.5,488.98 C598.03,488.91 598.57,488.59 599.1,488.5 C599.63,488.4 600.17,488.46 600.7,488.4 C601.23,488.34 601.77,488.14 602.3,488.12 C602.83,488.11 603.37,488.28 603.9,488.3 C604.43,488.33 604.97,488.37 605.5,488.24 C606.03,488.12 606.57,487.65 607.1,487.57 C607.63,487.49 608.17,487.75 608.7,487.77 C609.23,487.78 609.77,487.69 610.3,487.66 C610.83,487.64 611.37,487.72 611.9,487.63 C612.43,487.53 612.97,487.14 613.5,487.1 C614.03,487.05 614.57,487.43 615.1,487.35 C615.63,487.28 616.17,486.75 616.7,486.66 C617.23,486.57 617.77,486.83 618.3,486.82 C618.83,486.8 619.37,486.62 619.9,486.56 C620.43,486.51 620.97,486.47 621.5,486.49 C622.03,486.5 622.57,486.66 623.1,486.65 C623.63,486.64 624.17,486.4 624.7,486.43 C625.23,486.45 625.77,486.85 626.3,486.79 C626.83,486.73 627.37,486.24 627.9,486.08 C628.43,485.92 628.97,485.83 629.5,485.83 C630.03,485.83 630.57,486.11 631.1,486.1 C631.63,486.1 632.17,485.9 632.7,485.8 C633.23,485.71 633.77,485.55 634.3,485.55 C634.83,485.55 635.37,485.76 635.9,485.79 C636.43,485.81 636.97,485.84 637.5,485.7 C638.03,485.57 638.57,485.1 639.1,485 C639.63,484.9 640.17,485.05 640.7,485.1 C641.23,485.14 641.77,485.34 642.3,485.28 C642.83,485.22 643.37,484.78 643.9,484.75 C644.43,484.72 644.97,485.13 645.5,485.11 C646.03,485.08 646.57,484.69 647.1,484.61 C647.63,484.52 648.17,484.61 648.7,484.58 C649.23,484.54 649.77,484.49 650.3,484.39 C650.83,484.3 651.37,484.06 651.9,484 C652.43,483.95 652.97,484.09 653.5,484.05 C654.03,484.02 654.57,483.86 655.1,483.81 C655.63,483.76 656.17,483.72 656.7,483.73 C657.23,483.75 657.77,483.91 658.3,483.9 C658.83,483.89 659.37,483.77 659.9,483.68 C660.43,483.58 660.97,483.41 661.5,483.35 C662.03,483.28 662.57,483.29 663.1,483.3 C663.63,483.31 664.17,483.46 664.7,483.4 C665.23,483.34 665.77,483.05 666.3,482.94 C666.83,482.82 667.37,482.74 667.9,482.71 C668.43,482.69 668.97,482.85 669.5,482.79 C670.03,482.74 670.57,482.49 671.1,482.38 C671.63,482.26 672.17,482.06 672.7,482.09 C673.23,482.13 673.77,482.62 674.3,482.57 C674.83,482.52 675.63,481.94 675.9,481.82" fill="none" stroke="#808080" stroke-width="1.1" stroke-linejoin="round" />
<path d="M411,351.4 C413.33,351.4 421.5,351.38 425,351.4 C428.5,351.42 430.37,351.4 432,351.5 C433.63,351.6 434.13,351.67 434.8,352 C435.47,352.33 435.65,352.83 436,353.5 C436.35,354.17 436.6,354.58 436.9,356 C437.2,357.42 437.52,359.67 437.8,362 C438.08,364.33 438.32,366.83 438.6,370 C438.88,373.17 439.2,376.67 439.5,381 C439.8,385.33 440.05,388.78 440.4,396 C440.75,403.22 441.22,417.47 441.6,424.3 C441.98,431.13 442.33,433.32 442.7,437 C443.07,440.68 443.42,443.9 443.8,446.4 C444.18,448.9 444.45,450.33 445,452 C445.55,453.67 445.63,454.75 447.1,456.4 C448.57,458.05 451.58,459.87 453.8,461.9 C456.02,463.93 457.82,466.57 460.4,468.6 C462.98,470.63 465.97,472.07 469.3,474.1 C472.63,476.13 476.72,478.95 480.4,480.8 C484.08,482.65 487.72,483.92 491.4,485.2 C495.08,486.48 498.57,487.65 502.5,488.5 C506.43,489.35 510.42,489.88 515,490.3 C519.58,490.72 524.17,490.95 530,491 C535.83,491.05 543.33,490.93 550,490.6 C556.67,490.27 563.33,489.68 570,489 C576.67,488.32 582.08,487.52 590,486.5 C597.92,485.48 609.17,483.98 617.5,482.9 C625.83,481.82 632.92,480.98 640,480 C647.08,479.02 654,477.88 660,477 C666,476.12 673.33,475.08 676,474.7" fill="none" stroke="#45b0e0" stroke-width="1.2" stroke-dasharray="4,1.5,1.3,1.5" stroke-linejoin="round" />
<path d="M411,351.4 C413.33,351.4 421.5,351.38 425,351.4 C428.5,351.42 430.37,351.4 432,351.5 C433.63,351.6 434.13,351.67 434.8,352 C435.47,352.33 435.65,352.83 436,353.5 C436.35,354.17 436.6,354.58 436.9,356 C437.2,357.42 437.52,359.67 437.8,362 C438.08,364.33 438.32,366.83 438.6,370 C438.88,373.17 439.2,377.08 439.5,381 C439.8,384.92 440.05,388.13 440.4,393.5 C440.75,398.87 441.22,408.28 441.6,413.2 C441.98,418.12 442.33,420.05 442.7,423 C443.07,425.95 443.42,428.65 443.8,430.9 C444.18,433.15 444.63,435.02 445,436.5 C445.37,437.98 444.83,438.3 446,439.8 C447.17,441.3 449.97,443.65 452,445.5 C454.03,447.35 455.32,448.15 458.2,450.9 C461.08,453.65 465.6,458.68 469.3,462 C473,465.32 476.72,468.22 480.4,470.8 C484.08,473.38 487.72,475.47 491.4,477.5 C495.08,479.53 498.8,481.42 502.5,483 C506.2,484.58 509.9,485.97 513.6,487 C517.3,488.03 521.02,488.68 524.7,489.2 C528.38,489.72 531.48,489.83 535.7,490.1 C539.92,490.37 544.28,490.73 550,490.8 C555.72,490.87 563.33,490.77 570,490.5 C576.67,490.23 582.08,489.98 590,489.2 C597.92,488.42 609.17,486.73 617.5,485.8 C625.83,484.87 632.92,484.32 640,483.6 C647.08,482.88 654,482.23 660,481.5 C666,480.77 673.33,479.58 676,479.2" fill="none" stroke="#45b0e0" stroke-width="1.4" stroke-linejoin="round" />
</g>
<rect x="381.6" y="349.7" width="294.6" height="141.4" fill="none" stroke="#555" stroke-width="1.3"/>
<line x1="440.3" y1="491.1" x2="440.3" y2="488.1" stroke="#555" stroke-width="0.9"/>
<line x1="440.3" y1="350" x2="440.3" y2="353" stroke="#555" stroke-width="0.9"/>
<line x1="498.98" y1="491.1" x2="498.98" y2="488.1" stroke="#555" stroke-width="0.9"/>
<line x1="498.98" y1="350" x2="498.98" y2="353" stroke="#555" stroke-width="0.9"/>
<line x1="557.66" y1="491.1" x2="557.66" y2="488.1" stroke="#555" stroke-width="0.9"/>
<line x1="557.66" y1="350" x2="557.66" y2="353" stroke="#555" stroke-width="0.9"/>
<line x1="616.34" y1="491.1" x2="616.34" y2="488.1" stroke="#555" stroke-width="0.9"/>
<line x1="616.34" y1="350" x2="616.34" y2="353" stroke="#555" stroke-width="0.9"/>
<line x1="675.02" y1="491.1" x2="675.02" y2="488.1" stroke="#555" stroke-width="0.9"/>
<line x1="675.02" y1="350" x2="675.02" y2="353" stroke="#555" stroke-width="0.9"/>
<line x1="381.9" y1="351.1" x2="384.9" y2="351.1" stroke="#555" stroke-width="0.9"/>
<line x1="676.2" y1="351.1" x2="673.2" y2="351.1" stroke="#555" stroke-width="0.9"/>
<line x1="381.9" y1="379.1" x2="384.9" y2="379.1" stroke="#555" stroke-width="0.9"/>
<line x1="676.2" y1="379.1" x2="673.2" y2="379.1" stroke="#555" stroke-width="0.9"/>
<line x1="381.9" y1="407.1" x2="384.9" y2="407.1" stroke="#555" stroke-width="0.9"/>
<line x1="676.2" y1="407.1" x2="673.2" y2="407.1" stroke="#555" stroke-width="0.9"/>
<line x1="381.9" y1="435.1" x2="384.9" y2="435.1" stroke="#555" stroke-width="0.9"/>
<line x1="676.2" y1="435.1" x2="673.2" y2="435.1" stroke="#555" stroke-width="0.9"/>
<line x1="381.9" y1="463.1" x2="384.9" y2="463.1" stroke="#555" stroke-width="0.9"/>
<line x1="676.2" y1="463.1" x2="673.2" y2="463.1" stroke="#555" stroke-width="0.9"/>
<line x1="381.9" y1="491.1" x2="384.9" y2="491.1" stroke="#555" stroke-width="0.9"/>
<line x1="676.2" y1="491.1" x2="673.2" y2="491.1" stroke="#555" stroke-width="0.9"/>
<text x="379.8" y="354.8" font-size="10.4" text-anchor="end" fill="#222" font-weight="normal" font-style="normal" >0</text>
<text x="379.8" y="382.8" font-size="10.4" text-anchor="end" fill="#222" font-weight="normal" font-style="normal" >-0.2</text>
<text x="379.8" y="410.8" font-size="10.4" text-anchor="end" fill="#222" font-weight="normal" font-style="normal" >-0.4</text>
<text x="379.8" y="438.8" font-size="10.4" text-anchor="end" fill="#222" font-weight="normal" font-style="normal" >-0.6</text>
<text x="379.8" y="466.8" font-size="10.4" text-anchor="end" fill="#222" font-weight="normal" font-style="normal" >-0.8</text>
<text x="379.8" y="494.8" font-size="10.4" text-anchor="end" fill="#222" font-weight="normal" font-style="normal" >-1</text>
<text x="440.3" y="501.6" font-size="10.4" text-anchor="middle" fill="#222" font-weight="normal" font-style="normal" >0</text>
<text x="499.2" y="501.6" font-size="10.4" text-anchor="middle" fill="#222" font-weight="normal" font-style="normal" >100</text>
<text x="558.4" y="501.6" font-size="10.4" text-anchor="middle" fill="#222" font-weight="normal" font-style="normal" >200</text>
<text x="617.5" y="501.6" font-size="10.4" text-anchor="middle" fill="#222" font-weight="normal" font-style="normal" >300</text>
<text x="674" y="501.6" font-size="10.4" text-anchor="middle" fill="#222" font-weight="normal" font-style="normal" >400</text>
<text x="513.3" y="515" font-size="11.7" text-anchor="start" fill="#222" font-weight="normal" font-style="normal" >Time [fs]</text>
<text x="355" y="420" font-size="11.6" text-anchor="middle" fill="#222" font-weight="normal" font-style="normal" transform="rotate(-90 355 420)" >&#916;R/R</text>
<line x1="499.7" y1="362.1" x2="522" y2="362.1" stroke="#808080" stroke-width="1.1"/>
<line x1="499.7" y1="376.5" x2="522" y2="376.5" stroke="#45b0e0" stroke-width="1.4"/>
<text x="525.7" y="364.8" font-size="7.7" text-anchor="start" fill="#222" font-weight="normal" font-style="normal" >Exp</text>
<text x="525.7" y="379.2" font-size="7.7" text-anchor="start" fill="#222" font-weight="normal" font-style="normal" >Th</text>
<line x1="584.3" y1="364.2" x2="607.4" y2="364.2" stroke="#45b0e0" stroke-width="1.3"/>
<line x1="584.3" y1="377" x2="607.4" y2="377" stroke="#45b0e0" stroke-width="1.3" stroke-dasharray="3,1.2,1,1.2"/>
<text x="611.2" y="367.3" font-size="8.6" text-anchor="start" fill="#222" font-weight="normal" font-style="normal" ><tspan font-style="italic">F</tspan>=5.7 J/m<tspan font-size="5.3" dy="-3.3">2</tspan></text>
<text x="611.2" y="380.1" font-size="8.6" text-anchor="start" fill="#222" font-weight="normal" font-style="normal" ><tspan font-style="italic">F</tspan>=3.6 J/m<tspan font-size="5.3" dy="-3.3">2</tspan></text>
<rect x="601.9" y="394.6" width="39.6" height="60.4" fill="#fff" stroke="#7e2f8e" stroke-width="1.6"/>
<path d="M606.5,409.3 L632.5,396.3 L637.7,398 L610.8,411 Z" fill="#d2e3ef"/>
<path d="M606.5,409.3 L610.8,411 L610.8,453.5 L606.5,451.2 Z" fill="#b4cadb"/>
<path d="M610.8,411 L637.7,398 L637.7,441.4 L610.8,453.5 Z" fill="#c6dbea"/>
<path d="M618.6,418.8 L630.2,413.6 L636.5,421.4 L632.5,436.2 L621.2,441.4 L614.3,431.8 Z" fill="#f39326"/>
<path d="M618.2,417.6 L630.4,412.2 L631.2,413.6 L619.4,418.9 Z" fill="#5e3510"/>
<path d="M614.3,431.8 L621.2,441.4 L620.6,442.6 L613.6,432.6 Z" fill="#5e3510"/>
<text x="622.5" y="466.3" font-size="10.4" text-anchor="middle" fill="#222" font-weight="normal" font-style="normal" >MC</text>
</svg>
</body></html>
